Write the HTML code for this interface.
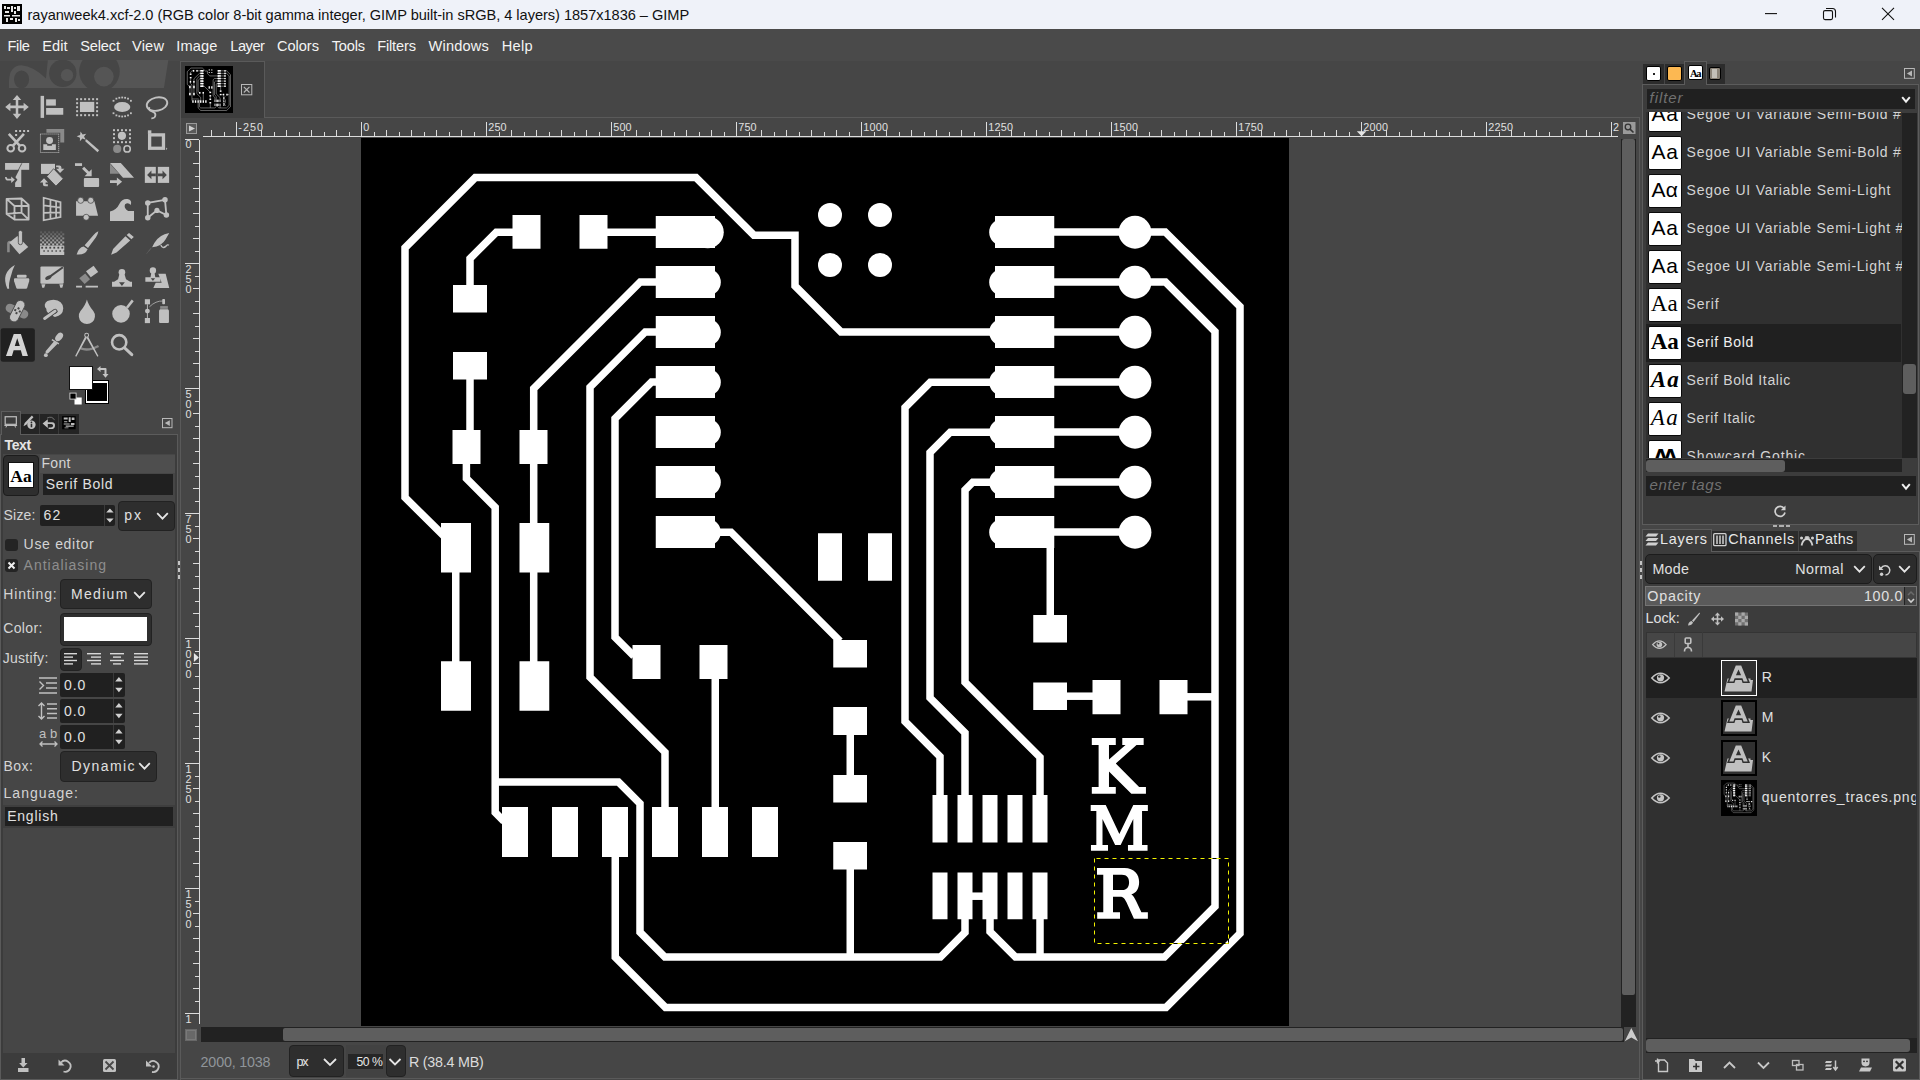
<!DOCTYPE html>
<html><head><meta charset="utf-8"><title>GIMP</title>
<style>
html,body{margin:0;padding:0;}
body{width:1920px;height:1080px;overflow:hidden;background:#464646;position:relative;font-family:"Liberation Sans",sans-serif;}
.t{position:absolute;white-space:pre;}
.r{position:absolute;box-sizing:border-box;}
svg{position:absolute;left:0;top:0;overflow:visible;}
</style></head><body>
<svg width="1920" height="1080" viewBox="0 0 1920 1080">
<g id="pcbg">
<rect x="361" y="138" width="928" height="888" fill="#000"/>
<g fill="none" stroke="#fff" stroke-width="7.5" stroke-linejoin="miter" stroke-linecap="butt">
<path d="M444,536 L405,497.5 L405,247.8 L475.3,177.5 L696,177.5 L753.9,235.25 L795,235.25 L795,286 L841,332 L996,332"/>
<path d="M513,232.25 L496.3,232.25 L470,258.5 L470,286"/>
<path d="M607,232.25 L657,232.25"/>
<path d="M657,281.9 L640.3,281.9 L533.7,388.5 L533.7,662"/>
<path d="M657,331.9 L645.3,331.9 L590,387.2 L590,677.2 L665,752.2 L665,808"/>
<path d="M657,382 L651.5,382 L615,418.5 L615,637.2 L634,656.2"/>
<path d="M714,532.2 L731,532.2 L840,641.2"/>
<path d="M470,379 L470,431"/>
<path d="M466.4,463 L466.4,478.5 L495.2,507.3 L495.2,812.5 L504,821.3"/>
<path d="M495.2,782.1 L618.5,782.1 L640,803.6 L640,932.2 L664.9,957.1 L940.4,957.1 L965,932.5 L965,918"/>
<path d="M455.75,572 L455.75,662"/>
<path d="M715.25,678 L715.25,808"/>
<path d="M615.25,856 L615.25,957.2 L665.5,1007.5 L1166,1007.5 L1240,933.5 L1240,306.5 L1165.2,231.9 L1135,231.9"/>
<path d="M1135,282 L1165.5,282 L1215,331.5 L1215,906.5 L1164.4,957.1 L1015.5,957.1 L990,931.6 L990,918"/>
<path d="M1040,918 L1040,957.1"/>
<path d="M850.25,868 L850.25,957.1"/>
<path d="M850.25,734 L850.25,776"/>
<path d="M1050.25,546 L1050.25,616"/>
<path d="M996,382.3 L930.3,382.3 L905,407.6 L905,721.5 L940,756.5 L940,796"/>
<path d="M996,432.2 L950.3,432.2 L930,452.5 L930,697.8 L965,732.8 L965,796"/>
<path d="M996,482.2 L972.8,482.2 L965,490 L965,682.2 L1040,757.2 L1040,796"/>
<path d="M1066,696.2 L1093,696.2"/>
<path d="M1187,696.8 L1215,696.8"/>
<path d="M970,896.2 L985,896.2"/>
<path d="M1053,232 L1135,232"/>
<path d="M1053,282 L1135,282"/>
<path d="M1053,332 L1135,332"/>
<path d="M1053,382 L1135,382"/>
<path d="M1053,432 L1135,432"/>
<path d="M1053,482 L1135,482"/>
<path d="M1053,532 L1135,532"/>
</g>
<g fill="#fff">
<rect x="512.50" y="215.00" width="28.00" height="33.75"/>
<rect x="579.50" y="215.00" width="28.00" height="33.75"/>
<rect x="453.00" y="285.00" width="34.00" height="27.50"/>
<rect x="453.00" y="352.00" width="34.00" height="27.50"/>
<rect x="452.50" y="430.00" width="28.00" height="34.00"/>
<rect x="519.50" y="430.00" width="28.00" height="34.00"/>
<rect x="441.00" y="523.00" width="30.00" height="49.50"/>
<rect x="519.50" y="523.00" width="29.75" height="49.50"/>
<rect x="441.00" y="661.25" width="30.00" height="49.50"/>
<rect x="519.50" y="661.25" width="29.75" height="49.50"/>
<rect x="632.50" y="645.00" width="28.00" height="34.00"/>
<rect x="699.50" y="645.00" width="28.00" height="34.00"/>
<rect x="818.00" y="533.25" width="24.00" height="47.50"/>
<rect x="868.00" y="533.25" width="24.00" height="47.50"/>
<rect x="833.25" y="640.00" width="33.75" height="27.50"/>
<rect x="833.25" y="707.00" width="33.75" height="28.00"/>
<rect x="833.25" y="775.00" width="33.75" height="27.50"/>
<rect x="833.25" y="842.00" width="33.75" height="27.50"/>
<rect x="1033.25" y="615.00" width="33.75" height="27.50"/>
<rect x="1033.25" y="682.50" width="33.75" height="27.50"/>
<rect x="1092.50" y="680.00" width="28.00" height="34.25"/>
<rect x="1159.50" y="680.00" width="28.00" height="34.25"/>
<rect x="502.00" y="807.00" width="26.00" height="50.00"/>
<rect x="552.00" y="807.00" width="26.00" height="50.00"/>
<rect x="602.00" y="807.00" width="26.00" height="50.00"/>
<rect x="652.00" y="807.00" width="26.00" height="50.00"/>
<rect x="702.00" y="807.00" width="26.00" height="50.00"/>
<rect x="752.00" y="807.00" width="26.00" height="50.00"/>
<rect x="932.50" y="795.00" width="15.00" height="47.50"/>
<rect x="932.50" y="872.50" width="15.00" height="46.75"/>
<rect x="957.50" y="795.00" width="15.00" height="47.50"/>
<rect x="957.50" y="872.50" width="15.00" height="46.75"/>
<rect x="982.50" y="795.00" width="15.00" height="47.50"/>
<rect x="982.50" y="872.50" width="15.00" height="46.75"/>
<rect x="1007.50" y="795.00" width="15.00" height="47.50"/>
<rect x="1007.50" y="872.50" width="15.00" height="46.75"/>
<rect x="1032.50" y="795.00" width="15.00" height="47.50"/>
<rect x="1032.50" y="872.50" width="15.00" height="46.75"/>
<rect x="655.75" y="216.00" width="59.25" height="32.00"/>
<circle cx="707.75" cy="232.25" r="16.00"/>
<rect x="995.00" y="216.00" width="59.25" height="32.00"/>
<circle cx="1002.5" cy="232.25" r="13.3"/>
<circle cx="1135" cy="232.25" r="16.4"/>
<rect x="655.75" y="266.00" width="59.25" height="32.00"/>
<circle cx="707.40" cy="282.25" r="13.40"/>
<rect x="995.00" y="266.00" width="59.25" height="32.00"/>
<circle cx="1002.5" cy="282.25" r="13.3"/>
<circle cx="1135" cy="282.25" r="16.4"/>
<rect x="655.75" y="316.00" width="59.25" height="32.00"/>
<circle cx="707.40" cy="332.25" r="13.40"/>
<rect x="995.00" y="316.00" width="59.25" height="32.00"/>
<circle cx="1002.5" cy="332.25" r="13.3"/>
<circle cx="1135" cy="332.25" r="16.4"/>
<rect x="655.75" y="366.00" width="59.25" height="32.00"/>
<circle cx="707.40" cy="382.25" r="13.40"/>
<rect x="995.00" y="366.00" width="59.25" height="32.00"/>
<circle cx="1002.5" cy="382.25" r="13.3"/>
<circle cx="1135" cy="382.25" r="16.4"/>
<rect x="655.75" y="416.00" width="59.25" height="32.00"/>
<circle cx="707.40" cy="432.25" r="13.40"/>
<rect x="995.00" y="416.00" width="59.25" height="32.00"/>
<circle cx="1002.5" cy="432.25" r="13.3"/>
<circle cx="1135" cy="432.25" r="16.4"/>
<rect x="655.75" y="466.00" width="59.25" height="32.00"/>
<circle cx="707.40" cy="482.25" r="13.40"/>
<rect x="995.00" y="466.00" width="59.25" height="32.00"/>
<circle cx="1002.5" cy="482.25" r="13.3"/>
<circle cx="1135" cy="482.25" r="16.4"/>
<rect x="655.75" y="516.00" width="59.25" height="32.00"/>
<circle cx="707.40" cy="532.25" r="13.40"/>
<rect x="995.00" y="516.00" width="59.25" height="32.00"/>
<circle cx="1002.5" cy="532.25" r="13.3"/>
<circle cx="1135" cy="532.25" r="16.4"/>
<circle cx="830" cy="215" r="12"/>
<circle cx="830" cy="265" r="12"/>
<circle cx="880" cy="215" r="12"/>
<circle cx="880" cy="265" r="12"/>
</g>
<polygon fill="#fff" points="1091.81,737.91 1115.79,737.91 1115.79,744.91 1108.98,744.91 1108.98,759.49 1125.51,744.91 1122.27,744.91 1122.27,737.91 1143.66,737.91 1143.66,744.91 1136.53,744.91 1115.79,763.38 1139.12,787.04 1145.93,787.04 1145.93,793.84 1131.34,793.84 1108.98,771.48 1108.98,787.04 1115.79,787.04 1115.79,793.84 1091.81,793.84 1091.81,787.04 1098.61,787.04 1098.61,744.91 1091.81,744.91"/>
<polygon fill="#fff" points="1090.70,805.05 1105.74,805.05 1119.35,833.89 1133.29,805.05 1147.87,805.05 1147.87,810.88 1142.04,810.88 1142.04,844.91 1147.55,844.91 1147.55,850.87 1127.97,850.87 1127.97,844.91 1133.29,844.91 1133.29,818.98 1120.65,844.91 1115.14,844.91 1102.50,818.98 1102.50,844.91 1108.01,844.91 1108.01,850.87 1090.96,850.87 1090.96,844.91 1096.34,844.91 1096.34,810.88 1090.70,810.88"/>
<path fill="#fff" fill-rule="evenodd" d="M1096.99,867.96 L1124.54,867.96 C1134.26,867.96 1139.12,874.44 1139.12,881.90 C1139.12,888.70 1136.20,892.92 1131.34,894.21 C1133.29,895.51 1134.58,897.78 1136.20,901.34 L1141.39,912.36 L1147.87,912.36 L1147.87,918.84 L1133.94,918.84 L1126.48,902.31 C1124.54,898.43 1123.24,896.81 1120.00,896.81 L1113.00,896.81 L1113.00,912.36 L1120.00,912.36 L1120.00,918.84 L1097.19,918.84 L1097.19,912.36 L1103.28,912.36 L1103.28,874.77 L1096.99,874.77 Z M1113.00,874.77 L1121.94,874.77 C1127.13,874.77 1129.07,878.01 1129.07,882.22 C1129.07,887.08 1126.81,890.00 1122.27,890.00 L1113.00,890.00 Z"/>
<rect x="1094.5" y="858.5" width="134" height="85" fill="none" stroke="#000" stroke-width="1"/>
<rect x="1094.5" y="858.5" width="134" height="85" fill="none" stroke="#f2f200" stroke-width="1" stroke-dasharray="4 4" stroke-dashoffset="-2"/>
</g>
</svg>
<div class="r" style="left:0.00px;top:0.00px;width:1920.00px;height:29.00px;background:#eff2f9;"></div>
<svg width="20" height="20" style="left:2px;top:4px" viewBox="0 0 20 20"><rect width="20" height="20" fill="#000"/><path d="M2,2h2v3h-2zM5,3h3v2h-3zM9,2h2v6h-2zM12,3h2v2h-2zM15,2h3v5h-3zM3,7h4v2h-4zM12,7h2v3h-2zM2,11h6v1.5h-6zM10,11h8v1.5h-8zM4,14h2v4h-2zM8,14h3v2h-3zM13,14h2v4h-2zM16,15h2v2h-2z" fill="#e8e8e8"/></svg>
<span class="t" style="left:27.50px;top:6.50px;font-size:14.60px;line-height:17px;color:#111;font-family:'Liberation Sans',sans-serif;letter-spacing:-0.033px;">rayanweek4.xcf-2.0 (RGB color 8-bit gamma integer, GIMP built-in sRGB, 4 layers) 1857x1836 – GIMP</span>
<svg width="1920" height="29" viewBox="0 0 1920 29"><g stroke="#111" stroke-width="1.1" fill="none"><path d="M1765,13.6 H1777"/><rect x="1823.5" y="10.600" width="9" height="9" rx="1.5"/><path d="M1826,8.500 H1832.500 Q1835.500,8.500 1835.500,11.500 V17.500"/><path d="M1882,7.800 L1894,19.800 M1894,7.800 L1882,19.800"/></g></svg>
<div class="r" style="left:0.00px;top:29.00px;width:1920.00px;height:31.50px;background:#4a4a4a;"></div>
<span class="t" style="left:7.50px;top:37.50px;font-size:14.60px;line-height:17px;color:#f4f4f4;font-family:'Liberation Sans',sans-serif;letter-spacing:-0.342px;">File</span>
<span class="t" style="left:42.20px;top:37.50px;font-size:14.60px;line-height:17px;color:#f4f4f4;font-family:'Liberation Sans',sans-serif;letter-spacing:0.047px;">Edit</span>
<span class="t" style="left:80.20px;top:37.50px;font-size:14.60px;line-height:17px;color:#f4f4f4;font-family:'Liberation Sans',sans-serif;letter-spacing:-0.156px;">Select</span>
<span class="t" style="left:132.00px;top:37.50px;font-size:14.60px;line-height:17px;color:#f4f4f4;font-family:'Liberation Sans',sans-serif;letter-spacing:0.206px;">View</span>
<span class="t" style="left:176.30px;top:37.50px;font-size:14.60px;line-height:17px;color:#f4f4f4;font-family:'Liberation Sans',sans-serif;letter-spacing:0.155px;">Image</span>
<span class="t" style="left:230.30px;top:37.50px;font-size:14.60px;line-height:17px;color:#f4f4f4;font-family:'Liberation Sans',sans-serif;letter-spacing:-0.456px;">Layer</span>
<span class="t" style="left:277.00px;top:37.50px;font-size:14.60px;line-height:17px;color:#f4f4f4;font-family:'Liberation Sans',sans-serif;letter-spacing:-0.038px;">Colors</span>
<span class="t" style="left:331.70px;top:37.50px;font-size:14.60px;line-height:17px;color:#f4f4f4;font-family:'Liberation Sans',sans-serif;letter-spacing:-0.196px;">Tools</span>
<span class="t" style="left:377.20px;top:37.50px;font-size:14.60px;line-height:17px;color:#f4f4f4;font-family:'Liberation Sans',sans-serif;letter-spacing:-0.158px;">Filters</span>
<span class="t" style="left:428.60px;top:37.50px;font-size:14.60px;line-height:17px;color:#f4f4f4;font-family:'Liberation Sans',sans-serif;letter-spacing:0.162px;">Windows</span>
<span class="t" style="left:501.70px;top:37.50px;font-size:14.60px;line-height:17px;color:#f4f4f4;font-family:'Liberation Sans',sans-serif;letter-spacing:0.291px;">Help</span>
<svg width="180" height="169.92" style="left:0;top:60px" viewBox="0 0 1144 1080"><defs><clipPath id="wmc"><rect x="0" y="0" width="1144" height="178"/></clipPath></defs><g clip-path="url(#wmc)"><path d="M57,178 L57,135 Q60,36 137,34 Q212,40 292,118 L304,0 L1070,0 L1042,178 Z" fill="#555555"/><ellipse cx="137" cy="123" rx="48" ry="57" fill="#464646"/><circle cx="399" cy="84.5" r="87" fill="#464646"/><circle cx="426" cy="96.6" r="39" fill="#555555"/><circle cx="632" cy="73" r="129" fill="#464646"/><circle cx="660" cy="105.5" r="62.5" fill="#555555"/></g><g fill="#c0c0c0" stroke="none"><path d="M108,222 L135,255 L116,255 L116,290 L150,290 L150,271 L183,298 L150,325 L150,306 L116,306 L116,342 L135,342 L108,375 L81,342 L100,342 L100,306 L66,306 L66,325 L33,298 L66,271 L66,290 L100,290 L100,255 L81,255 Z"/><rect x="258" y="228" width="22" height="140"/><rect x="293" y="250" width="62" height="40"/><rect x="293" y="305" width="109" height="43"/><rect x="508" y="266" width="91" height="64.500"/><rect x="483.7" y="242.8" width="12.7" height="12.7"/><rect x="483.7" y="268.2" width="12.7" height="12.7"/><rect x="483.7" y="293.6" width="12.7" height="12.7"/><rect x="483.7" y="319.0" width="12.7" height="12.7"/><rect x="483.7" y="344.4" width="12.7" height="12.7"/><rect x="509.1" y="242.8" width="12.7" height="12.7"/><rect x="509.1" y="344.4" width="12.7" height="12.7"/><rect x="534.5" y="242.8" width="12.7" height="12.7"/><rect x="534.5" y="344.4" width="12.7" height="12.7"/><rect x="559.9" y="242.8" width="12.7" height="12.7"/><rect x="559.9" y="344.4" width="12.7" height="12.7"/><rect x="585.3" y="242.8" width="12.7" height="12.7"/><rect x="585.3" y="344.4" width="12.7" height="12.7"/><rect x="610.7" y="242.8" width="12.7" height="12.7"/><rect x="610.7" y="268.2" width="12.7" height="12.7"/><rect x="610.7" y="293.6" width="12.7" height="12.7"/><rect x="610.7" y="319.0" width="12.7" height="12.7"/><rect x="610.7" y="344.4" width="12.7" height="12.7"/><ellipse cx="776.7" cy="298.5" rx="51.5" ry="32"/><rect x="715.7" y="253.5" width="11.5" height="11.5"/><rect x="715.7" y="332.6" width="11.5" height="11.5"/><rect x="734.1" y="239.9" width="11.5" height="11.5"/><rect x="734.1" y="346.2" width="11.5" height="11.5"/><rect x="752.6" y="234.3" width="11.5" height="11.5"/><rect x="752.6" y="351.8" width="11.5" height="11.5"/><rect x="771.0" y="232.6" width="11.5" height="11.5"/><rect x="771.0" y="353.5" width="11.5" height="11.5"/><rect x="789.4" y="234.3" width="11.5" height="11.5"/><rect x="789.4" y="351.8" width="11.5" height="11.5"/><rect x="807.9" y="239.9" width="11.5" height="11.5"/><rect x="807.9" y="346.2" width="11.5" height="11.5"/><rect x="826.3" y="253.5" width="11.5" height="11.5"/><rect x="826.3" y="332.6" width="11.5" height="11.5"/><ellipse cx="998" cy="280" rx="66" ry="42" transform="rotate(-12 998 280)" fill="none" stroke="#c0c0c0" stroke-width="12"/><path d="M950,300 C935,335 990,318 988,350 C987,364 978,372 962,371" fill="none" stroke="#c0c0c0" stroke-width="11"/><g fill="none" stroke="#c0c0c0"><circle cx="68" cy="561" r="21" stroke-width="13"/><circle cx="140" cy="561" r="21" stroke-width="13"/><path d="M56,470 L128,548 M152,470 L80,548" stroke-width="17"/></g><rect x="96.0" y="445" width="12.7" height="12.7"/><rect x="121.4" y="445" width="12.7" height="12.7"/><rect x="146.8" y="445" width="12.7" height="12.7"/><rect x="172.2" y="445" width="12.7" height="12.7"/><rect x="96" y="470.4" width="12.7" height="12.7"/><path d="M295,438 H408 V525 H383 V462 H295 Z" fill="#8a8a8a"/><rect x="257" y="470" width="116" height="118" fill="none" stroke="#c0c0c0" stroke-width="6.4" stroke-dasharray="6.36 6.36"/><circle cx="315" cy="512" r="22"/><path d="M275,535 H300 V545 H330 V535 H355 V572 H275 Z"/><polygon points="511.8,454.0 525.2,473.0 547.9,468.4 534.0,486.9 545.4,507.1 523.5,499.6 507.8,516.7 508.2,493.5 487.1,483.9 509.2,477.1"/><path d="M545,510 L625,580" stroke="#c0c0c0" stroke-width="15" fill="none"/><rect x="718.2" y="439.8" width="12.7" height="12.7"/><rect x="718.2" y="465.2" width="12.7" height="12.7"/><rect x="718.2" y="490.6" width="12.7" height="12.7"/><rect x="718.2" y="516.0" width="12.7" height="12.7"/><rect x="743.6" y="439.8" width="12.7" height="12.7"/><rect x="743.6" y="516.0" width="12.7" height="12.7"/><rect x="769.0" y="439.8" width="12.7" height="12.7"/><rect x="769.0" y="516.0" width="12.7" height="12.7"/><rect x="794.4" y="439.8" width="12.7" height="12.7"/><rect x="794.4" y="516.0" width="12.7" height="12.7"/><rect x="819.8" y="439.8" width="12.7" height="12.7"/><rect x="819.8" y="465.2" width="12.7" height="12.7"/><rect x="819.8" y="490.6" width="12.7" height="12.7"/><rect x="819.8" y="516.0" width="12.7" height="12.7"/><circle cx="775" cy="482" r="26"/><circle cx="745" cy="565" r="26" fill="#8a8a8a"/><circle cx="808" cy="565" r="20" fill="none" stroke="#c0c0c0" stroke-width="10"/><rect x="951" y="476" width="88" height="85" fill="none" stroke="#c0c0c0" stroke-width="21"/><rect x="940" y="447" width="22" height="22"/><path d="M1056,556 l8,8 l-8,8z"/><g transform="translate(0,635.6) scale(0.5826)"><rect x="55" y="33" width="263" height="74"/><path d="M238,36 L160,192" stroke="#464646" stroke-width="9"/><path d="M232,62 V295 H165 V248 L190,215 L168,188 Z"/><path d="M55,185 H72 Q72,205 92,205 H122 V180 L162,215 L122,250 V225 H90 Q55,225 55,185 Z"/><rect x="447" y="42" width="153" height="110"/><path d="M585,95 L690,205 L610,285 L510,180 Z" stroke="#464646" stroke-width="9"/><path d="M612,60 H648 Q670,60 670,82 V95 H702 L655,142 L612,95 H640 V86 Q640,80 633,80 H612 Z"/><path d="M522,287 H490 Q468,287 468,265 V245 H435 L480,198 L524,245 H497 V258 Q497,265 504,265 H522 Z"/><rect x="818" y="35" width="77" height="30"/><path d="M895,96 L918,73 L972,127 L1000,100 V177 H923 L950,150 Z"/><rect x="915" y="197" width="166" height="98" rx="10"/><path d="M1200,40 V150 H1300 Z" fill="#8a8a8a"/><path d="M1200,33 H1318 L1462,195 H1342 Z"/><path d="M1200,222 H1275 V190 L1332,237 L1275,284 V252 H1200 Z"/><rect x="1580" y="75" width="120" height="175"/><rect x="1722" y="75" width="123" height="175"/><path d="M1605,163 L1652,116 V148 H1700 V178 H1652 V210 Z M1820,163 L1773,116 V148 H1722 V178 H1773 V210 Z" fill="#464646"/><g fill="none" stroke="#c0c0c0" stroke-width="20" stroke-linejoin="round"><path d="M72,424 L235,420 L312,490 V650 H158 L72,588 Z M72,424 L158,502 H312 M158,502 V650 M235,420 V575 L72,588 M235,575 L312,650"/></g><g fill="none" stroke="#c0c0c0" stroke-width="19"><path d="M476,412 L660,460 V622 L476,658 Z M550,432 V645 M612,448 V632 M476,495 L660,520 M476,578 L660,572"/></g><path d="M830,450 H1030 L1070,608 H830 Z"/><circle cx="880" cy="440" r="33" stroke="#464646" stroke-width="8"/><circle cx="990" cy="440" r="33" stroke="#464646" stroke-width="8"/><circle cx="940" cy="625" r="33" stroke="#464646" stroke-width="8"/><path d="M1200,562 Q1272,545 1302,480 Q1332,418 1392,425 Q1445,436 1426,492 Q1400,455 1365,482 Q1345,522 1398,556 H1462 V665 H1200 Z"/><path d="M1612,468 L1800,435 L1815,600 L1712,550 L1612,630 Z" fill="none" stroke="#c0c0c0" stroke-width="20"/><circle cx="1612" cy="468" r="30"/><circle cx="1800" cy="435" r="30"/><circle cx="1815" cy="600" r="30"/><circle cx="1612" cy="630" r="30"/><circle cx="1712" cy="550" r="28"/></g></g></svg>
<svg width="180" height="215.05" style="left:0;top:225px" viewBox="0 0 904 1080"><defs><linearGradient id="gr" x1="0" y1="0" x2="0" y2="1"><stop offset="0" stop-color="#c0c0c0" stop-opacity="0.1"/><stop offset="0.6" stop-color="#c0c0c0" stop-opacity="0.85"/></linearGradient></defs><rect x="3" y="518" width="172" height="169" rx="12" fill="#212121"/><g fill="#c0c0c0"><g transform="translate(0,15.07) scale(0.4604)"><path d="M78,265 V170 Q80,140 108,140 L135,152 L106,178 V265 Z" fill="#8a8a8a"/><path d="M190,88 L308,208 L212,285 L102,158 Z"/><rect x="200" y="26" width="45" height="156" rx="22" stroke="#464646" stroke-width="9"/><rect x="437" y="36" width="22" height="22" opacity="0.18"/><rect x="481" y="36" width="22" height="22" opacity="0.18"/><rect x="525" y="36" width="22" height="22" opacity="0.18"/><rect x="569" y="36" width="22" height="22" opacity="0.18"/><rect x="613" y="36" width="22" height="22" opacity="0.18"/><rect x="657" y="36" width="22" height="22" opacity="0.18"/><rect x="459" y="58" width="22" height="22" opacity="0.30"/><rect x="503" y="58" width="22" height="22" opacity="0.30"/><rect x="547" y="58" width="22" height="22" opacity="0.30"/><rect x="591" y="58" width="22" height="22" opacity="0.30"/><rect x="635" y="58" width="22" height="22" opacity="0.30"/><rect x="679" y="58" width="22" height="22" opacity="0.30"/><rect x="437" y="80" width="22" height="22" opacity="0.42"/><rect x="481" y="80" width="22" height="22" opacity="0.42"/><rect x="525" y="80" width="22" height="22" opacity="0.42"/><rect x="569" y="80" width="22" height="22" opacity="0.42"/><rect x="613" y="80" width="22" height="22" opacity="0.42"/><rect x="657" y="80" width="22" height="22" opacity="0.42"/><rect x="459" y="102" width="22" height="22" opacity="0.54"/><rect x="503" y="102" width="22" height="22" opacity="0.54"/><rect x="547" y="102" width="22" height="22" opacity="0.54"/><rect x="591" y="102" width="22" height="22" opacity="0.54"/><rect x="635" y="102" width="22" height="22" opacity="0.54"/><rect x="679" y="102" width="22" height="22" opacity="0.54"/><rect x="437" y="124" width="22" height="22" opacity="0.66"/><rect x="481" y="124" width="22" height="22" opacity="0.66"/><rect x="525" y="124" width="22" height="22" opacity="0.66"/><rect x="569" y="124" width="22" height="22" opacity="0.66"/><rect x="613" y="124" width="22" height="22" opacity="0.66"/><rect x="657" y="124" width="22" height="22" opacity="0.66"/><rect x="459" y="146" width="22" height="22" opacity="0.78"/><rect x="503" y="146" width="22" height="22" opacity="0.78"/><rect x="547" y="146" width="22" height="22" opacity="0.78"/><rect x="591" y="146" width="22" height="22" opacity="0.78"/><rect x="635" y="146" width="22" height="22" opacity="0.78"/><rect x="679" y="146" width="22" height="22" opacity="0.78"/><rect x="437" y="168" width="22" height="22" opacity="0.90"/><rect x="481" y="168" width="22" height="22" opacity="0.90"/><rect x="525" y="168" width="22" height="22" opacity="0.90"/><rect x="569" y="168" width="22" height="22" opacity="0.90"/><rect x="613" y="168" width="22" height="22" opacity="0.90"/><rect x="657" y="168" width="22" height="22" opacity="0.90"/><rect x="437" y="190" width="264" height="105" rx="6"/><rect x="450" y="205" width="20" height="20" fill="#464646"/><rect x="472" y="242" width="18" height="18" fill="#464646" opacity="0.8"/><rect x="494" y="205" width="20" height="20" fill="#464646"/><rect x="516" y="242" width="18" height="18" fill="#464646" opacity="0.8"/><rect x="538" y="205" width="20" height="20" fill="#464646"/><rect x="560" y="242" width="18" height="18" fill="#464646" opacity="0.8"/><rect x="582" y="205" width="20" height="20" fill="#464646"/><rect x="604" y="242" width="18" height="18" fill="#464646" opacity="0.8"/><rect x="626" y="205" width="20" height="20" fill="#464646"/><rect x="648" y="242" width="18" height="18" fill="#464646" opacity="0.8"/><rect x="670" y="205" width="20" height="20" fill="#464646"/><rect x="692" y="242" width="18" height="18" fill="#464646" opacity="0.8"/></g><path d="M494,32 Q480,38 470,50 L425,102 L442,116 L482,62 Q492,48 494,32 Z"/><path d="M420,108 Q395,112 385,148 Q428,152 440,122 Z"/><path d="M648,40 L672,60 L660,72 L636,50 Z M630,56 L654,78 L585,138 L558,150 L568,120 Z"/><path d="M850,40 Q800,48 775,90 L764,112 Q812,108 832,72 Z"/><path d="M808,100 q8,22 26,6 q8,-10 14,-4" fill="none" stroke="#c0c0c0" stroke-width="7"/><path d="M760,115 L738,142" stroke="#c0c0c0" stroke-width="4" stroke-dasharray="4 4" opacity="0.5"/><g transform="translate(0,15.07) scale(0.4604)"><path d="M162,403 Q5,490 80,662 L100,662 Q92,600 120,520 Q132,462 162,403 Z"/><rect x="185" y="510" width="105" height="32" rx="10"/><path d="M158,548 H312 Q325,552 318,580 L296,655 Q292,662 284,662 H190 Q182,662 178,655 L154,580 Q148,552 158,548 Z"/></g><rect x="203" y="208" width="117" height="87" rx="6"/><path d="M208,298 H228 L222,315 H212 Z M298,298 H318 L313,315 H303 Z"/><path d="M316,212 L252,258" stroke="#464646" stroke-width="10"/><ellipse cx="243" cy="264" rx="17" ry="9" transform="rotate(-28 243 264)" fill="#464646"/><path d="M432,232 L470,205 L493,236 L456,263 Z"/><path d="M398,268 L428,244 L452,272 L425,296 Z" fill="#8a8a8a"/><rect x="382" y="305" width="30" height="9"/><rect x="430" y="305" width="62" height="9"/><g transform="translate(0,15.07) scale(0.4604)"><circle cx="1330" cy="482" r="36"/><path d="M1302,505 H1358 L1375,560 L1420,585 H1440 V640 H1222 V585 H1245 L1288,560 Z"/><path d="M1298,592 H1362 L1330,632 Z" fill="#464646"/></g><circle cx="768" cy="228" r="16"/><path d="M760,240 H776 L780,262 H806 V285 H730 V262 H756 Z"/><path d="M757,268 H779 L768,281 Z" fill="#464646"/><path d="M795,245 H832 L850,316 H770 L782,290 H812 Z"/><g transform="translate(0,356.56) scale(0.4604)"><rect x="55" y="118" width="260" height="94" rx="45" transform="rotate(23.600 185 165)" fill="#8a8a8a"/><rect x="138" y="40" width="100" height="250" rx="48" transform="rotate(27 188 165)" stroke="#464646" stroke-width="9"/><rect x="155" y="142" width="22" height="22" transform="rotate(27 166 153)" fill="#464646"/><rect x="191" y="124" width="22" height="22" transform="rotate(27 202 135)" fill="#464646"/><rect x="169" y="176" width="22" height="22" transform="rotate(27 180 187)" fill="#464646"/><rect x="205" y="158" width="22" height="22" transform="rotate(27 216 169)" fill="#464646"/><path d="M488,95 Q500,45 585,42 Q685,50 690,135 Q688,215 600,228 Q568,222 572,195 Q625,200 630,165 Q610,140 585,160 L530,195 Q500,170 505,140 Q485,120 488,95 Z"/><path d="M487,245 L600,165" stroke="#464646" stroke-width="50" stroke-linecap="round"/><path d="M487,245 L600,165" stroke="#c0c0c0" stroke-width="33" stroke-linecap="round"/><path d="M948,38 Q935,95 878,165 A88,88 0 1 0 1018,165 Q962,95 948,38 Z"/><circle cx="1320" cy="195" r="96"/><path d="M1385,128 L1448,48" stroke="#c0c0c0" stroke-width="28"/><path d="M1608,90 V240" stroke="#c0c0c0" stroke-width="10"/><path d="M1630,118 Q1700,50 1778,55" fill="none" stroke="#c0c0c0" stroke-width="8"/><rect x="1580" y="35" width="56" height="56"/><rect x="1580" y="240" width="56" height="56"/><circle cx="1608" cy="165" r="27"/><rect x="1770" y="33" width="30" height="58" rx="8"/><rect x="1747" y="110" width="84" height="30" fill="#8a8a8a"/><path d="M1747,145 H1831 Q1843,150 1843,165 V283 Q1843,295 1831,295 H1747 Q1735,295 1735,283 V165 Q1735,150 1747,145 Z"/><path d="M150,415 H228 L305,655 H245 L227,592 H149 L130,655 H65 Z M188,462 L161,545 H216 Z" fill="#d4d4d4" fill-rule="evenodd"/><ellipse cx="645" cy="447" rx="34" ry="52" transform="rotate(40 645 447)"/><path d="M566,476 L642,522" stroke="#c0c0c0" stroke-width="15"/><path d="M592,490 L628,520 L528,622 Q510,635 500,622 Q490,610 502,596 Z"/><circle cx="500" cy="645" r="21"/><path d="M880,572 Q965,605 1075,545" fill="none" stroke="#8a8a8a" stroke-width="26"/><circle cx="945" cy="428" r="21" fill="none" stroke="#c0c0c0" stroke-width="11"/><path d="M928,445 L948,452 L832,662 L820,655 Z M962,445 L942,452 L1062,662 L1074,655 Z"/><circle cx="1300" cy="505" r="78" fill="none" stroke="#c0c0c0" stroke-width="28"/><path d="M1362,568 L1438,640" stroke="#c0c0c0" stroke-width="32" stroke-linecap="round"/></g></g></svg>
<div class="r" style="left:84.80px;top:380.20px;width:24.20px;height:23.70px;background:#fff;border:1.3px solid #000;"></div>
<div class="r" style="left:87.20px;top:382.60px;width:19.40px;height:18.90px;background:#000;"></div>
<div class="r" style="left:69.00px;top:366.00px;width:24.00px;height:24.00px;background:#fff;border:1px solid #111;"></div>
<svg width="14" height="14" style="left:68.5px;top:391.5px" viewBox="0 0 14 14"><rect x="5.500" y="5.500" width="7.200" height="7" fill="#fff"/><rect x="0.900" y="1.100" width="6.200" height="6" fill="#000" stroke="#d4d4d4" stroke-width="0.9"/></svg>
<svg width="14" height="14" style="left:96px;top:365px" viewBox="0 0 14 14"><path d="M1,4 L4.5,1 V3 H9.5 Q10.5,3 10.5,4 V9 H12.5 L9.5,12.8 L6.5,9 H8.5 V5 H4.5 V7 Z" fill="#c4c4c4"/></svg>
<div class="r" style="left:0.00px;top:434.40px;width:178.20px;height:645.60px;background:#3c3c3c;border:1px solid #5a5a5a;border-top:none;"></div>
<div class="r" style="left:3.00px;top:454.30px;width:172.30px;height:598.40px;background:#464646;"></div>
<div class="r" style="left:20.80px;top:414.00px;width:58.50px;height:20.50px;background:#242424;"></div>
<div class="r" style="left:0.50px;top:410.70px;width:20.60px;height:24.50px;background:#3c3c3c;border:1px solid #5c5c5c;border-bottom:none;"></div>
<div class="r" style="left:38.80px;top:414.00px;width:1.00px;height:20.00px;background:#3a3a3a;"></div>
<div class="r" style="left:57.60px;top:414.00px;width:1.00px;height:20.00px;background:#3a3a3a;"></div>
<div class="r" style="left:21.00px;top:434.00px;width:157.00px;height:1.00px;background:#5c5c5c;"></div>
<svg width="180" height="215.05" style="left:0;top:224.2px" viewBox="0 0 904 1080"><g fill="#c0c0c0"><rect x="26" y="968" width="56" height="38" fill="none" stroke="#c0c0c0" stroke-width="6"/><path d="M22,1012 H86 M34,1010 L30,1022 M74,1010 L78,1022" stroke="#c0c0c0" stroke-width="5"/><path d="M118,1016 L124,1000 L160,962 L168,970 L132,1008 Z"/><circle cx="158" cy="1008" r="21"/><rect x="154" y="1003" width="8" height="18" fill="#2a2a2a"/><circle cx="158" cy="996" r="4.5" fill="#2a2a2a"/><path d="M214,1002 L240,980 V996 H262 Q278,998 276,1014 Q274,1030 256,1030 H244 V1022 H256 Q266,1021 267,1012 Q266,1004 258,1004 H240 V1024 Z"/><path d="M236,975 Q262,962 274,985" fill="none" stroke="#c0c0c0" stroke-width="4" opacity="0.6"/><rect x="312" y="965" width="68" height="66" fill="#000"/><path d="M320,972h20v10h-20zM345,970h10v25h-10zM360,972h14v12h-14zM322,990h16v6h-16zM320,1002h30v5h-30zM356,1000h18v10h-18zM330,1012h40v6h-40zM324,1022h20v4h-20z" fill="#bbb"/></g></svg>
<svg width="12" height="12" style="left:161.700px;top:417.800px" viewBox="0 0 12 12"><rect x="0.500" y="0.500" width="9.500" height="9.200" fill="none" stroke="#b8b8b8"/><path d="M7.800,2.300 V7.900 L2.800,5.100 Z" fill="#b8b8b8"/></svg>
<span class="t" style="left:4.60px;top:437.00px;font-size:14.00px;line-height:16px;color:#e4e4e4;font-family:'Liberation Sans',sans-serif;letter-spacing:-0.416px;font-weight:bold;">Text</span>
<div class="r" style="left:40.00px;top:455.00px;width:135.00px;height:18.00px;background:#4e4e4e;"></div>
<div class="r" style="left:3.00px;top:455.00px;width:36.00px;height:40.50px;background:#2e2e2e;border:1px solid #1c1c1c;border-radius:4px;"></div>
<div class="r" style="left:8.30px;top:462.00px;width:25.30px;height:25.50px;background:#fff;border:1px solid #111;"></div>
<span class="t" style="left:10.20px;top:466.00px;font-size:17.50px;line-height:20px;color:#000;font-family:'Liberation Serif',serif;letter-spacing:0.112px;font-weight:bold;">Aa</span>
<span class="t" style="left:41.40px;top:455.00px;font-size:14.00px;line-height:16px;color:#d4d4d4;font-family:'Liberation Sans',sans-serif;letter-spacing:0.329px;">Font</span>
<div class="r" style="left:42.80px;top:474.00px;width:130.50px;height:20.50px;background:#202020;"></div>
<span class="t" style="left:45.80px;top:476.00px;font-size:14.00px;line-height:16px;color:#e0e0e0;font-family:'Liberation Sans',sans-serif;letter-spacing:0.667px;">Serif Bold</span>
<span class="t" style="left:3.50px;top:507.00px;font-size:14.00px;line-height:16px;color:#d4d4d4;font-family:'Liberation Sans',sans-serif;letter-spacing:0.219px;">Size:</span>
<div class="r" style="left:39.50px;top:504.50px;width:75.00px;height:21.50px;background:#202020;border-radius:2px;"></div>
<span class="t" style="left:43.60px;top:507.00px;font-size:14.00px;line-height:16px;color:#e0e0e0;font-family:'Liberation Sans',sans-serif;letter-spacing:1.227px;">62</span>
<div class="r" style="left:103.50px;top:504.50px;width:1.00px;height:21.50px;background:#3a3a3a;"></div>
<svg width="12" height="21.0" style="left:103.5px;top:504.5px" viewBox="0 0 12 21.0"><path d="M2.2,7.6 L5.900,3.6 L9.600,7.6 Z M2.200,13.4 L5.900,17.4 L9.600,13.4 Z" fill="#d0d0d0"/></svg>
<div class="r" style="left:117.50px;top:500.50px;width:57.50px;height:30.50px;background:#2e2e2e;border:1px solid #222;border-radius:4px;"></div>
<span class="t" style="left:124.30px;top:507.00px;font-size:14.00px;line-height:16px;color:#e0e0e0;font-family:'Liberation Sans',sans-serif;letter-spacing:1.914px;">px</span>
<svg width="13" height="8" style="left:156.0px;top:512.0px" viewBox="0 0 13 8"><path d="M1.2,1.2 L6.5,6.6 L11.8,1.2" fill="none" stroke="#e6e6e6" stroke-width="1.8"/></svg>
<div class="r" style="left:5.30px;top:538.50px;width:12.50px;height:12.00px;background:#242424;border-radius:3px;"></div>
<span class="t" style="left:23.60px;top:536.00px;font-size:14.00px;line-height:16px;color:#d4d4d4;font-family:'Liberation Sans',sans-serif;letter-spacing:0.688px;">Use editor</span>
<div class="r" style="left:5.00px;top:559.30px;width:12.50px;height:12.50px;background:#242424;border-radius:3px;"></div>
<svg width="9" height="9" style="left:6.8px;top:561.1px" viewBox="0 0 9 9"><path d="M1.5,1.5 L7.5,7.5 M7.5,1.5 L1.5,7.5" stroke="#f0f0f0" stroke-width="2"/></svg>
<span class="t" style="left:23.60px;top:557.00px;font-size:14.00px;line-height:16px;color:#8e8e8e;font-family:'Liberation Sans',sans-serif;letter-spacing:0.982px;">Antialiasing</span>
<span class="t" style="left:3.30px;top:586.00px;font-size:14.00px;line-height:16px;color:#d4d4d4;font-family:'Liberation Sans',sans-serif;letter-spacing:0.847px;">Hinting:</span>
<div class="r" style="left:60.40px;top:579.30px;width:91.30px;height:30.00px;background:#2e2e2e;border:1px solid #222;border-radius:4px;"></div>
<span class="t" style="left:71.00px;top:586.00px;font-size:14.00px;line-height:16px;color:#e0e0e0;font-family:'Liberation Sans',sans-serif;letter-spacing:1.301px;">Medium</span>
<svg width="13" height="8" style="left:133.0px;top:591.0px" viewBox="0 0 13 8"><path d="M1.2,1.2 L6.5,6.6 L11.8,1.2" fill="none" stroke="#e6e6e6" stroke-width="1.8"/></svg>
<span class="t" style="left:3.30px;top:620.00px;font-size:14.00px;line-height:16px;color:#d4d4d4;font-family:'Liberation Sans',sans-serif;letter-spacing:0.331px;">Color:</span>
<div class="r" style="left:60.40px;top:612.70px;width:91.30px;height:33.00px;background:#2e2e2e;border:1px solid #222;border-radius:4px;"></div>
<div class="r" style="left:64.30px;top:616.70px;width:83.00px;height:24.50px;background:#fff;"></div>
<span class="t" style="left:2.70px;top:650.00px;font-size:14.00px;line-height:16px;color:#d4d4d4;font-family:'Liberation Sans',sans-serif;letter-spacing:0.291px;">Justify:</span>
<div class="r" style="left:60.40px;top:648.30px;width:22.00px;height:22.50px;background:#2a2a2a;border:1px solid #222;border-radius:4px;"></div>
<svg width="100" height="14" style="left:62px;top:652px" viewBox="0 0 100 14"><g stroke="#d8d8d8" stroke-width="1.4"><path d="M2,1.7 H15"/><path d="M2,5.1 H11"/><path d="M2,8.5 H15"/><path d="M2,11.9 H11"/><path d="M25,1.7 H39"/><path d="M29,5.1 H39"/><path d="M25,8.5 H39"/><path d="M29,11.9 H39"/><path d="M48,1.7 H62"/><path d="M51,5.1 H59"/><path d="M48,8.5 H62"/><path d="M51,11.9 H59"/><path d="M72,1.7 H86"/><path d="M72,5.1 H86"/><path d="M72,8.5 H86"/><path d="M72,11.9 H86"/></g></svg>
<div class="r" style="left:60.40px;top:673.40px;width:64.30px;height:23.20px;background:#202020;border-radius:2px;"></div>
<span class="t" style="left:64.00px;top:677.00px;font-size:14.00px;line-height:16px;color:#e0e0e0;font-family:'Liberation Sans',sans-serif;letter-spacing:0.919px;">0.0</span>
<div class="r" style="left:113.20px;top:673.40px;width:1.00px;height:23.20px;background:#3a3a3a;"></div>
<svg width="12" height="23.2" style="left:113.2px;top:673.4px" viewBox="0 0 12 23.2"><path d="M2.2,8.4 L5.900,3.9 L9.600,8.4 Z M2.200,14.8 L5.900,19.3 L9.600,14.8 Z" fill="#d0d0d0"/></svg>
<div class="r" style="left:60.40px;top:699.40px;width:64.30px;height:23.20px;background:#202020;border-radius:2px;"></div>
<span class="t" style="left:64.00px;top:703.00px;font-size:14.00px;line-height:16px;color:#e0e0e0;font-family:'Liberation Sans',sans-serif;letter-spacing:0.919px;">0.0</span>
<div class="r" style="left:113.20px;top:699.40px;width:1.00px;height:23.20px;background:#3a3a3a;"></div>
<svg width="12" height="23.2" style="left:113.2px;top:699.4px" viewBox="0 0 12 23.2"><path d="M2.2,8.4 L5.900,3.9 L9.600,8.4 Z M2.200,14.8 L5.900,19.3 L9.600,14.8 Z" fill="#d0d0d0"/></svg>
<div class="r" style="left:60.40px;top:725.40px;width:64.30px;height:23.20px;background:#202020;border-radius:2px;"></div>
<span class="t" style="left:64.00px;top:729.00px;font-size:14.00px;line-height:16px;color:#e0e0e0;font-family:'Liberation Sans',sans-serif;letter-spacing:0.919px;">0.0</span>
<div class="r" style="left:113.20px;top:725.40px;width:1.00px;height:23.20px;background:#3a3a3a;"></div>
<svg width="12" height="23.2" style="left:113.2px;top:725.4px" viewBox="0 0 12 23.2"><path d="M2.2,8.4 L5.900,3.9 L9.600,8.4 Z M2.200,14.8 L5.900,19.3 L9.600,14.8 Z" fill="#d0d0d0"/></svg>
<svg width="180" height="100" style="left:0;top:670px" viewBox="0 670 180 100"><g fill="none" stroke="#c0c0c0" stroke-width="1.5"><path d="M39,678 H57 M46,683 H57 M46,688 H57 M39,693 H57"/><path d="M39.5,681.5 L43.5,685.5 L39.5,689.5" stroke-width="1.4"/><path d="M47,704 H57 M47,708.7 H57 M47,713.4 H57 M47,718 H57"/><path d="M41.5,703 V719 M38.5,706 L41.5,703 L44.5,706 M38.5,716 L41.5,719 L44.5,716" stroke-width="1.4"/><path d="M40,744 H57 M42.5,741.5 L40,744 L42.5,746.5 M54.500,741.5 L57,744 L54.5,746.5" stroke-width="1.3"/></g></svg>
<span class="t" style="left:38.90px;top:726.00px;font-size:13.00px;line-height:15px;color:#c0c0c0;font-family:'Liberation Sans',sans-serif;letter-spacing:3.840px;">ab</span>
<span class="t" style="left:3.50px;top:758.00px;font-size:14.00px;line-height:16px;color:#d4d4d4;font-family:'Liberation Sans',sans-serif;letter-spacing:0.495px;">Box:</span>
<div class="r" style="left:60.40px;top:751.10px;width:96.60px;height:30.60px;background:#2e2e2e;border:1px solid #222;border-radius:4px;"></div>
<span class="t" style="left:71.50px;top:758.00px;font-size:14.00px;line-height:16px;color:#e0e0e0;font-family:'Liberation Sans',sans-serif;letter-spacing:1.424px;">Dynamic</span>
<svg width="13" height="8" style="left:137.5px;top:762.3px" viewBox="0 0 13 8"><path d="M1.2,1.2 L6.5,6.6 L11.8,1.2" fill="none" stroke="#e6e6e6" stroke-width="1.8"/></svg>
<span class="t" style="left:3.50px;top:785.00px;font-size:14.00px;line-height:16px;color:#d4d4d4;font-family:'Liberation Sans',sans-serif;letter-spacing:1.040px;">Language:</span>
<div class="r" style="left:3.00px;top:805.30px;width:171.70px;height:23.20px;background:#202020;border:2px solid #3e3e3e;"></div>
<span class="t" style="left:7.20px;top:808.00px;font-size:14.00px;line-height:16px;color:#e0e0e0;font-family:'Liberation Sans',sans-serif;letter-spacing:0.764px;">English</span>
<svg width="180" height="24" style="left:0;top:1054px" viewBox="0 1054 180 24"><g fill="#c0c0c0" stroke="none"><path d="M21.5,1058 h3.5 v5 h2.5 l-4.2,4.5 l-4.2,-4.5 h2.4 z M18,1068 h10.5 v4 h-10.5 z"/><path d="M61,1062.5 A5.5,5.5 0 1 1 63.5,1071.5" fill="none" stroke="#c0c0c0" stroke-width="1.8"/><path d="M58.5,1059.5 v6 h6 z"/><rect x="103" y="1059" width="13" height="13" rx="1.5"/><path d="M105.5,1061.5 l8,8 m0,-8 l-8,8" stroke="#484848" stroke-width="1.8"/><path d="M149,1063 A5.5,5.5 0 1 1 152,1072" fill="none" stroke="#c0c0c0" stroke-width="1.8"/><path d="M146,1060.500 v6 h6 z"/><circle cx="153.5" cy="1066.5" r="1.3"/></g></svg>
<div class="r" style="left:180.20px;top:117.00px;width:1.00px;height:963.00px;background:#5a5a5a;"></div>
<div class="r" style="left:180.20px;top:61.00px;width:85.00px;height:57.00px;background:#3d3d3d;border:1px solid #5a5a5a;border-bottom:none;"></div>
<div class="r" style="left:265.00px;top:117.00px;width:1375.00px;height:1.00px;background:#5a5a5a;"></div>
<svg width="48" height="47" style="left:185px;top:66px" viewBox="361 138 928.5 918" preserveAspectRatio="none"><rect x="361" y="138" width="928.5" height="918" fill="#000"/><use href="#pcbg" /></svg>
<svg width="12" height="12" style="left:240.7px;top:83.700px" viewBox="0 0 12 12"><rect x="0.5" y="0.5" width="10.3" height="10.3" fill="none" stroke="#b8b8b8"/><path d="M2.800,2.800 L8.500,8.500 M8.500,2.800 L2.800,8.500" stroke="#b8b8b8" stroke-width="1.1"/></svg>
<svg width="1920" height="1080" viewBox="0 0 1920 1080"><g stroke="#dcdcdc" stroke-width="1" fill="none" shape-rendering="crispEdges"><path d="M203,136.5 H1618"/><path d="M211.5,130 V136"/><path d="M224.5,132 V136"/><path d="M236.5,122 V136"/><path d="M249.5,132 V136"/><path d="M261.5,130 V136"/><path d="M274.5,132 V136"/><path d="M286.5,130 V136"/><path d="M299.5,132 V136"/><path d="M311.5,130 V136"/><path d="M324.5,132 V136"/><path d="M336.5,130 V136"/><path d="M349.5,132 V136"/><path d="M361.5,122 V136"/><path d="M374.5,132 V136"/><path d="M386.5,130 V136"/><path d="M399.5,132 V136"/><path d="M411.5,130 V136"/><path d="M424.5,132 V136"/><path d="M436.5,130 V136"/><path d="M449.5,132 V136"/><path d="M461.5,130 V136"/><path d="M474.5,132 V136"/><path d="M486.5,122 V136"/><path d="M499.5,132 V136"/><path d="M511.5,130 V136"/><path d="M524.5,132 V136"/><path d="M536.5,130 V136"/><path d="M549.5,132 V136"/><path d="M561.5,130 V136"/><path d="M574.5,132 V136"/><path d="M586.5,130 V136"/><path d="M599.5,132 V136"/><path d="M611.5,122 V136"/><path d="M624.5,132 V136"/><path d="M636.5,130 V136"/><path d="M649.5,132 V136"/><path d="M661.5,130 V136"/><path d="M674.5,132 V136"/><path d="M686.5,130 V136"/><path d="M699.5,132 V136"/><path d="M711.5,130 V136"/><path d="M724.5,132 V136"/><path d="M736.5,122 V136"/><path d="M749.5,132 V136"/><path d="M761.5,130 V136"/><path d="M774.5,132 V136"/><path d="M786.5,130 V136"/><path d="M799.5,132 V136"/><path d="M811.5,130 V136"/><path d="M824.5,132 V136"/><path d="M836.5,130 V136"/><path d="M849.5,132 V136"/><path d="M861.5,122 V136"/><path d="M874.5,132 V136"/><path d="M886.5,130 V136"/><path d="M899.5,132 V136"/><path d="M911.5,130 V136"/><path d="M924.5,132 V136"/><path d="M936.5,130 V136"/><path d="M949.5,132 V136"/><path d="M961.5,130 V136"/><path d="M974.5,132 V136"/><path d="M986.5,122 V136"/><path d="M999.5,132 V136"/><path d="M1011.5,130 V136"/><path d="M1024.5,132 V136"/><path d="M1036.5,130 V136"/><path d="M1049.5,132 V136"/><path d="M1061.5,130 V136"/><path d="M1074.5,132 V136"/><path d="M1086.5,130 V136"/><path d="M1099.5,132 V136"/><path d="M1111.5,122 V136"/><path d="M1124.5,132 V136"/><path d="M1136.5,130 V136"/><path d="M1149.5,132 V136"/><path d="M1161.5,130 V136"/><path d="M1174.5,132 V136"/><path d="M1186.5,130 V136"/><path d="M1199.5,132 V136"/><path d="M1211.5,130 V136"/><path d="M1224.5,132 V136"/><path d="M1236.5,122 V136"/><path d="M1249.5,132 V136"/><path d="M1261.5,130 V136"/><path d="M1274.5,132 V136"/><path d="M1286.5,130 V136"/><path d="M1299.5,132 V136"/><path d="M1311.5,130 V136"/><path d="M1324.5,132 V136"/><path d="M1336.5,130 V136"/><path d="M1349.5,132 V136"/><path d="M1361.5,122 V136"/><path d="M1374.5,132 V136"/><path d="M1386.5,130 V136"/><path d="M1399.5,132 V136"/><path d="M1411.5,130 V136"/><path d="M1424.5,132 V136"/><path d="M1436.5,130 V136"/><path d="M1449.5,132 V136"/><path d="M1461.5,130 V136"/><path d="M1474.5,132 V136"/><path d="M1486.5,122 V136"/><path d="M1499.5,132 V136"/><path d="M1511.5,130 V136"/><path d="M1524.5,132 V136"/><path d="M1536.5,130 V136"/><path d="M1549.5,132 V136"/><path d="M1561.5,130 V136"/><path d="M1574.5,132 V136"/><path d="M1586.5,130 V136"/><path d="M1599.5,132 V136"/><path d="M1611.5,122 V136"/><path d="M199.5,140 V1024"/><path d="M185,139.5 H199"/><path d="M195,151.5 H199"/><path d="M193,163.5 H199"/><path d="M195,176.5 H199"/><path d="M193,188.5 H199"/><path d="M195,201.5 H199"/><path d="M193,213.5 H199"/><path d="M195,226.5 H199"/><path d="M193,238.5 H199"/><path d="M195,251.5 H199"/><path d="M185,263.5 H199"/><path d="M195,276.5 H199"/><path d="M193,288.5 H199"/><path d="M195,301.5 H199"/><path d="M193,313.5 H199"/><path d="M195,326.5 H199"/><path d="M193,338.5 H199"/><path d="M195,351.5 H199"/><path d="M193,363.5 H199"/><path d="M195,376.5 H199"/><path d="M185,388.5 H199"/><path d="M195,401.5 H199"/><path d="M193,413.5 H199"/><path d="M195,426.5 H199"/><path d="M193,438.5 H199"/><path d="M195,451.5 H199"/><path d="M193,463.5 H199"/><path d="M195,476.5 H199"/><path d="M193,488.5 H199"/><path d="M195,501.5 H199"/><path d="M185,513.5 H199"/><path d="M195,526.5 H199"/><path d="M193,538.5 H199"/><path d="M195,551.5 H199"/><path d="M193,563.5 H199"/><path d="M195,576.5 H199"/><path d="M193,588.5 H199"/><path d="M195,601.5 H199"/><path d="M193,613.5 H199"/><path d="M195,626.5 H199"/><path d="M185,638.5 H199"/><path d="M195,651.5 H199"/><path d="M193,663.5 H199"/><path d="M195,676.5 H199"/><path d="M193,688.5 H199"/><path d="M195,701.5 H199"/><path d="M193,713.5 H199"/><path d="M195,726.5 H199"/><path d="M193,738.5 H199"/><path d="M195,751.5 H199"/><path d="M185,763.5 H199"/><path d="M195,776.5 H199"/><path d="M193,788.5 H199"/><path d="M195,801.5 H199"/><path d="M193,813.5 H199"/><path d="M195,826.5 H199"/><path d="M193,838.5 H199"/><path d="M195,851.5 H199"/><path d="M193,863.5 H199"/><path d="M195,876.5 H199"/><path d="M185,888.5 H199"/><path d="M195,901.5 H199"/><path d="M193,913.5 H199"/><path d="M195,926.5 H199"/><path d="M193,938.5 H199"/><path d="M195,951.5 H199"/><path d="M193,963.5 H199"/><path d="M195,976.5 H199"/><path d="M193,988.5 H199"/><path d="M195,1001.5 H199"/><path d="M185,1013.5 H199"/></g><rect x="186.5" y="123.5" width="10" height="10" fill="#5a5a5a" stroke="#9a9a9a"/><path d="M189,125.5 L195,128.5 L189,131.5 Z" fill="#d0d0d0"/><rect x="1623" y="122" width="12.5" height="12" fill="#9a9a9a"/><circle cx="1628" cy="127" r="2.8" fill="none" stroke="#333" stroke-width="1.3"/><path d="M1630,129.2 L1633.5,132.5" stroke="#333" stroke-width="1.6"/><path d="M1356.8,131.2 H1366.4 L1361.6,136.2 Z" fill="#e4e4e4"/><path d="M193.9,653 V662 L198.9,657.500 Z" fill="#e4e4e4"/><path d="M1631.300,1028 L1638,1041.200 L1631.300,1037.600 L1624.800,1041.200 Z" fill="#cccccc"/><rect x="185" y="1029" width="12" height="12" fill="#686868"/><rect x="186.5" y="1030.5" width="9" height="9" fill="none" stroke="#8a8a8a" stroke-dasharray="1 1"/></svg>
<span class="t" style="left:238.30px;top:120.50px;font-size:10.80px;line-height:13px;color:#e0e0e0;font-family:'Liberation Sans',sans-serif;letter-spacing:0.994px;">-250</span>
<span class="t" style="left:363.30px;top:120.50px;font-size:10.80px;line-height:13px;color:#e0e0e0;font-family:'Liberation Sans',sans-serif;letter-spacing:-0.307px;">0</span>
<span class="t" style="left:488.30px;top:120.50px;font-size:10.80px;line-height:13px;color:#e0e0e0;font-family:'Liberation Sans',sans-serif;letter-spacing:0.140px;">250</span>
<span class="t" style="left:613.30px;top:120.50px;font-size:10.80px;line-height:13px;color:#e0e0e0;font-family:'Liberation Sans',sans-serif;letter-spacing:0.140px;">500</span>
<span class="t" style="left:738.30px;top:120.50px;font-size:10.80px;line-height:13px;color:#e0e0e0;font-family:'Liberation Sans',sans-serif;letter-spacing:0.140px;">750</span>
<span class="t" style="left:863.30px;top:120.50px;font-size:10.80px;line-height:13px;color:#e0e0e0;font-family:'Liberation Sans',sans-serif;letter-spacing:0.191px;">1000</span>
<span class="t" style="left:988.30px;top:120.50px;font-size:10.80px;line-height:13px;color:#e0e0e0;font-family:'Liberation Sans',sans-serif;letter-spacing:0.191px;">1250</span>
<span class="t" style="left:1113.30px;top:120.50px;font-size:10.80px;line-height:13px;color:#e0e0e0;font-family:'Liberation Sans',sans-serif;letter-spacing:0.191px;">1500</span>
<span class="t" style="left:1238.30px;top:120.50px;font-size:10.80px;line-height:13px;color:#e0e0e0;font-family:'Liberation Sans',sans-serif;letter-spacing:0.191px;">1750</span>
<span class="t" style="left:1363.30px;top:120.50px;font-size:10.80px;line-height:13px;color:#e0e0e0;font-family:'Liberation Sans',sans-serif;letter-spacing:0.191px;">2000</span>
<span class="t" style="left:1488.30px;top:120.50px;font-size:10.80px;line-height:13px;color:#e0e0e0;font-family:'Liberation Sans',sans-serif;letter-spacing:0.191px;">2250</span>
<span class="t" style="left:1613.00px;top:120.50px;font-size:10.80px;line-height:13px;color:#e0e0e0;font-family:'Liberation Sans',sans-serif;">2</span>
<span class="t" style="left:185.60px;top:137.50px;font-size:10.80px;line-height:13px;color:#e0e0e0;font-family:'Liberation Sans',sans-serif;">0</span>
<span class="t" style="left:185.60px;top:262.50px;font-size:10.80px;line-height:13px;color:#e0e0e0;font-family:'Liberation Sans',sans-serif;">2</span>
<span class="t" style="left:185.60px;top:272.50px;font-size:10.80px;line-height:13px;color:#e0e0e0;font-family:'Liberation Sans',sans-serif;">5</span>
<span class="t" style="left:185.60px;top:282.50px;font-size:10.80px;line-height:13px;color:#e0e0e0;font-family:'Liberation Sans',sans-serif;">0</span>
<span class="t" style="left:185.60px;top:387.50px;font-size:10.80px;line-height:13px;color:#e0e0e0;font-family:'Liberation Sans',sans-serif;">5</span>
<span class="t" style="left:185.60px;top:397.50px;font-size:10.80px;line-height:13px;color:#e0e0e0;font-family:'Liberation Sans',sans-serif;">0</span>
<span class="t" style="left:185.60px;top:407.50px;font-size:10.80px;line-height:13px;color:#e0e0e0;font-family:'Liberation Sans',sans-serif;">0</span>
<span class="t" style="left:185.60px;top:512.50px;font-size:10.80px;line-height:13px;color:#e0e0e0;font-family:'Liberation Sans',sans-serif;">7</span>
<span class="t" style="left:185.60px;top:522.50px;font-size:10.80px;line-height:13px;color:#e0e0e0;font-family:'Liberation Sans',sans-serif;">5</span>
<span class="t" style="left:185.60px;top:532.50px;font-size:10.80px;line-height:13px;color:#e0e0e0;font-family:'Liberation Sans',sans-serif;">0</span>
<span class="t" style="left:185.60px;top:637.50px;font-size:10.80px;line-height:13px;color:#e0e0e0;font-family:'Liberation Sans',sans-serif;">1</span>
<span class="t" style="left:185.60px;top:647.50px;font-size:10.80px;line-height:13px;color:#e0e0e0;font-family:'Liberation Sans',sans-serif;">0</span>
<span class="t" style="left:185.60px;top:657.50px;font-size:10.80px;line-height:13px;color:#e0e0e0;font-family:'Liberation Sans',sans-serif;">0</span>
<span class="t" style="left:185.60px;top:667.50px;font-size:10.80px;line-height:13px;color:#e0e0e0;font-family:'Liberation Sans',sans-serif;">0</span>
<span class="t" style="left:185.60px;top:762.50px;font-size:10.80px;line-height:13px;color:#e0e0e0;font-family:'Liberation Sans',sans-serif;">1</span>
<span class="t" style="left:185.60px;top:772.50px;font-size:10.80px;line-height:13px;color:#e0e0e0;font-family:'Liberation Sans',sans-serif;">2</span>
<span class="t" style="left:185.60px;top:782.50px;font-size:10.80px;line-height:13px;color:#e0e0e0;font-family:'Liberation Sans',sans-serif;">5</span>
<span class="t" style="left:185.60px;top:792.50px;font-size:10.80px;line-height:13px;color:#e0e0e0;font-family:'Liberation Sans',sans-serif;">0</span>
<span class="t" style="left:185.60px;top:887.50px;font-size:10.80px;line-height:13px;color:#e0e0e0;font-family:'Liberation Sans',sans-serif;">1</span>
<span class="t" style="left:185.60px;top:897.50px;font-size:10.80px;line-height:13px;color:#e0e0e0;font-family:'Liberation Sans',sans-serif;">5</span>
<span class="t" style="left:185.60px;top:907.50px;font-size:10.80px;line-height:13px;color:#e0e0e0;font-family:'Liberation Sans',sans-serif;">0</span>
<span class="t" style="left:185.60px;top:917.50px;font-size:10.80px;line-height:13px;color:#e0e0e0;font-family:'Liberation Sans',sans-serif;">0</span>
<span class="t" style="left:185.60px;top:1012.50px;font-size:10.80px;line-height:13px;color:#e0e0e0;font-family:'Liberation Sans',sans-serif;">1</span>
<div class="r" style="left:1621.00px;top:138.50px;width:15.00px;height:888.00px;background:#222;"></div>
<div class="r" style="left:1622.00px;top:139.30px;width:13.10px;height:855.50px;background:#5e5e5e;border-radius:2px;"></div>
<div class="r" style="left:201.00px;top:1027.00px;width:1422.50px;height:14.80px;background:#222;"></div>
<div class="r" style="left:283.00px;top:1027.90px;width:1339.60px;height:13.10px;background:#5e5e5e;border-radius:2px;"></div>
<div class="r" style="left:181.20px;top:1043.00px;width:1458.00px;height:36.00px;background:#464646;border-bottom:1px solid #5a5a5a;"></div>
<span class="t" style="left:200.60px;top:1054.00px;font-size:14.30px;line-height:16px;color:#90959a;font-family:'Liberation Sans',sans-serif;letter-spacing:-0.175px;">2000, 1038</span>
<div class="r" style="left:289.40px;top:1045.00px;width:55.10px;height:31.60px;background:#2e2e2e;border:1px solid #222;border-radius:4px;"></div>
<span class="t" style="left:296.40px;top:1054.50px;font-size:12.60px;line-height:15px;color:#e6e6e6;font-family:'Liberation Sans',sans-serif;letter-spacing:-1.108px;">px</span>
<svg width="16" height="10" style="left:322px;top:1056.5px" viewBox="0 0 16 10"><path d="M2,2 L8,8 L14,2" fill="none" stroke="#e6e6e6" stroke-width="1.8"/></svg>
<div class="r" style="left:346.00px;top:1045.00px;width:39.50px;height:31.60px;background:#424242;"></div>
<div class="r" style="left:348.00px;top:1054.00px;width:35.20px;height:15.00px;background:#262626;"></div>
<span class="t" style="left:356.60px;top:1055.00px;font-size:12.20px;line-height:14px;color:#e6e6e6;font-family:'Liberation Sans',sans-serif;letter-spacing:-0.536px;">50 %</span>
<div class="r" style="left:385.50px;top:1045.00px;width:20.30px;height:31.60px;background:#2e2e2e;border:1px solid #222;border-radius:4px;"></div>
<svg width="14" height="10" style="left:388.3px;top:1056.5px" viewBox="0 0 14 10"><path d="M1.5,2 L7,7.5 L12.5,2" fill="none" stroke="#e6e6e6" stroke-width="1.8"/></svg>
<span class="t" style="left:408.90px;top:1054.00px;font-size:14.30px;line-height:16px;color:#dcdcdc;font-family:'Liberation Sans',sans-serif;letter-spacing:-0.208px;">R (38.4 MB)</span>
<div class="r" style="left:1639.30px;top:117.00px;width:1.00px;height:963.00px;background:#5a5a5a;"></div>
<div class="r" style="left:1640.20px;top:561.00px;width:2.00px;height:3.70px;background:#c4c4c4;"></div>
<div class="r" style="left:178.20px;top:561.00px;width:2.00px;height:3.70px;background:#c4c4c4;"></div>
<div class="r" style="left:1640.20px;top:568.00px;width:2.00px;height:3.70px;background:#c4c4c4;"></div>
<div class="r" style="left:178.20px;top:568.00px;width:2.00px;height:3.70px;background:#c4c4c4;"></div>
<div class="r" style="left:1640.20px;top:575.00px;width:2.00px;height:3.70px;background:#c4c4c4;"></div>
<div class="r" style="left:178.20px;top:575.00px;width:2.00px;height:3.70px;background:#c4c4c4;"></div>
<div class="r" style="left:1642.30px;top:84.30px;width:276.50px;height:440.50px;background:#3c3c3c;border:1px solid #5c5c5c;"></div>
<div class="r" style="left:1642.50px;top:63.80px;width:21.40px;height:20.50px;background:#2c2c2c;"></div>
<div class="r" style="left:1665.00px;top:63.80px;width:18.80px;height:20.50px;background:#2c2c2c;"></div>
<div class="r" style="left:1707.20px;top:63.80px;width:18.20px;height:20.50px;background:#2c2c2c;"></div>
<div class="r" style="left:1684.20px;top:61.30px;width:22.90px;height:24.00px;background:#3c3c3c;border:1px solid #5c5c5c;border-bottom:none;"></div>
<div class="r" style="left:1646.00px;top:66.00px;width:14.80px;height:14.70px;background:#fff;border:1.3px solid #000;border-radius:2px;"></div>
<div class="r" style="left:1652.50px;top:72.50px;width:2.00px;height:2.00px;background:#222;"></div>
<div class="r" style="left:1667.00px;top:66.30px;width:15.00px;height:14.40px;background:#fcb852;border:1.3px solid #000;border-radius:2px;"></div>
<div class="r" style="left:1688.00px;top:65.00px;width:14.80px;height:14.90px;background:#fff;border:1.3px solid #000;border-radius:2px;"></div>
<span class="t" style="left:1690.00px;top:67.50px;font-size:10.50px;line-height:12px;color:#000;font-family:'Liberation Serif',serif;letter-spacing:-1.333px;font-weight:bold;">Aa</span>
<div class="r" style="left:1709.20px;top:67.10px;width:11.60px;height:12.80px;background:#8c8478;border:1.3px solid #000;border-radius:2px;"></div>
<div class="r" style="left:1712.00px;top:69.00px;width:4.50px;height:9.00px;background:#c4c0b8;"></div>
<svg width="12" height="12" style="left:1903.5px;top:67.5px" viewBox="0 0 12 12"><rect x="0.500" y="0.500" width="9.800" height="9.800" fill="none" stroke="#b8b8b8"/><path d="M8,2.400 V8.400 L2.900,5.400 Z" fill="#b8b8b8"/></svg>
<div class="r" style="left:1646.60px;top:89.00px;width:268.80px;height:20.20px;background:#202020;"></div>
<span class="t" style="left:1649.60px;top:89.00px;font-size:15.00px;line-height:17px;color:#707070;font-family:'Liberation Sans',sans-serif;letter-spacing:0.932px;font-style:italic;">filter</span>
<svg width="10" height="7" style="left:1901.3px;top:95.8px" viewBox="0 0 10 7"><path d="M1.2,1.2 L5.0,5.6 L8.8,1.2" fill="none" stroke="#f0f0f0" stroke-width="2.0"/></svg>
<div class="r" style="left:1646px;top:112px;width:256px;height:346px;background:#303030;overflow:hidden">
<div class="r" style="left:2.00px;top:-13.90px;width:34.00px;height:33.80px;background:#fff;border:1px solid #0a0a0a;border-radius:2px;"></div>
<span class="t" style="left:5.60px;top:-10.00px;font-size:21.00px;line-height:23px;color:#000;font-family:'Liberation Sans',sans-serif;letter-spacing:0.713px;">Aa</span>
<span class="t" style="left:40.60px;top:-6.00px;font-size:14.00px;line-height:16px;color:#d4d4d4;font-family:'Liberation Sans',sans-serif;letter-spacing:0.766px;">Segoe UI Variable Semi-Bold #</span>
<div class="r" style="left:2.00px;top:24.10px;width:34.00px;height:33.80px;background:#fff;border:1px solid #0a0a0a;border-radius:2px;"></div>
<span class="t" style="left:5.60px;top:28.00px;font-size:21.00px;line-height:23px;color:#000;font-family:'Liberation Sans',sans-serif;letter-spacing:0.713px;">Aa</span>
<span class="t" style="left:40.60px;top:32.00px;font-size:14.00px;line-height:16px;color:#d4d4d4;font-family:'Liberation Sans',sans-serif;letter-spacing:0.766px;">Segoe UI Variable Semi-Bold #</span>
<div class="r" style="left:2.00px;top:62.10px;width:34.00px;height:33.80px;background:#fff;border:1px solid #0a0a0a;border-radius:2px;"></div>
<span class="t" style="left:5.60px;top:66.00px;font-size:21.00px;line-height:23px;color:#000;font-family:'Liberation Sans',sans-serif;letter-spacing:0.252px;">Aα</span>
<span class="t" style="left:40.60px;top:70.00px;font-size:14.00px;line-height:16px;color:#d4d4d4;font-family:'Liberation Sans',sans-serif;letter-spacing:0.756px;">Segoe UI Variable Semi-Light</span>
<div class="r" style="left:2.00px;top:100.10px;width:34.00px;height:33.80px;background:#fff;border:1px solid #0a0a0a;border-radius:2px;"></div>
<span class="t" style="left:5.60px;top:104.00px;font-size:21.00px;line-height:23px;color:#000;font-family:'Liberation Sans',sans-serif;letter-spacing:0.713px;">Aa</span>
<span class="t" style="left:40.60px;top:108.00px;font-size:14.00px;line-height:16px;color:#d4d4d4;font-family:'Liberation Sans',sans-serif;letter-spacing:0.748px;">Segoe UI Variable Semi-Light #</span>
<div class="r" style="left:2.00px;top:138.10px;width:34.00px;height:33.80px;background:#fff;border:1px solid #0a0a0a;border-radius:2px;"></div>
<span class="t" style="left:5.60px;top:142.00px;font-size:21.00px;line-height:23px;color:#000;font-family:'Liberation Sans',sans-serif;letter-spacing:0.713px;">Aa</span>
<span class="t" style="left:40.60px;top:146.00px;font-size:14.00px;line-height:16px;color:#d4d4d4;font-family:'Liberation Sans',sans-serif;letter-spacing:0.748px;">Segoe UI Variable Semi-Light #</span>
<div class="r" style="left:2.00px;top:176.10px;width:34.00px;height:33.80px;background:#fff;border:1px solid #0a0a0a;border-radius:2px;"></div>
<span class="t" style="left:4.80px;top:179.00px;font-size:23.00px;line-height:25px;color:#000;font-family:'Liberation Serif',serif;letter-spacing:0.182px;">Aa</span>
<span class="t" style="left:40.60px;top:184.00px;font-size:14.00px;line-height:16px;color:#d4d4d4;font-family:'Liberation Sans',sans-serif;letter-spacing:0.800px;">Serif</span>
<div class="r" style="left:0.00px;top:212.20px;width:254.80px;height:37.50px;background:#202020;"></div>
<div class="r" style="left:2.00px;top:214.10px;width:34.00px;height:33.80px;background:#fff;border:1px solid #0a0a0a;border-radius:2px;"></div>
<span class="t" style="left:4.80px;top:217.00px;font-size:23.00px;line-height:25px;color:#000;font-family:'Liberation Serif',serif;letter-spacing:-0.110px;font-weight:bold;">Aa</span>
<span class="t" style="left:40.60px;top:222.00px;font-size:14.00px;line-height:16px;color:#f0f0f0;font-family:'Liberation Sans',sans-serif;letter-spacing:0.678px;">Serif Bold</span>
<div class="r" style="left:2.00px;top:252.10px;width:34.00px;height:33.80px;background:#fff;border:1px solid #0a0a0a;border-radius:2px;"></div>
<span class="t" style="left:4.80px;top:255.00px;font-size:23.00px;line-height:25px;color:#000;font-family:'Liberation Serif',serif;letter-spacing:1.158px;font-weight:bold;font-style:italic;">Aa</span>
<span class="t" style="left:40.60px;top:260.00px;font-size:14.00px;line-height:16px;color:#d4d4d4;font-family:'Liberation Sans',sans-serif;letter-spacing:0.649px;">Serif Bold Italic</span>
<div class="r" style="left:2.00px;top:290.10px;width:34.00px;height:33.80px;background:#fff;border:1px solid #0a0a0a;border-radius:2px;"></div>
<span class="t" style="left:4.80px;top:293.00px;font-size:23.00px;line-height:25px;color:#000;font-family:'Liberation Serif',serif;letter-spacing:1.450px;font-style:italic;">Aa</span>
<span class="t" style="left:40.60px;top:298.00px;font-size:14.00px;line-height:16px;color:#d4d4d4;font-family:'Liberation Sans',sans-serif;letter-spacing:0.621px;">Serif Italic</span>
<div class="r" style="left:2.00px;top:328.10px;width:34.00px;height:33.80px;background:#fff;border:1px solid #0a0a0a;border-radius:2px;"></div>
<span class="t" style="left:6.00px;top:332.50px;font-size:24.00px;line-height:26px;color:#000;font-family:'Liberation Sans',sans-serif;letter-spacing:-7.665px;font-weight:bold;">AA</span>
<span class="t" style="left:40.60px;top:336.00px;font-size:14.00px;line-height:16px;color:#d4d4d4;font-family:'Liberation Sans',sans-serif;letter-spacing:0.847px;">Showcard Gothic</span>
</div>
<div class="r" style="left:1902.00px;top:112.50px;width:15.00px;height:345.50px;background:#222;"></div>
<div class="r" style="left:1903.30px;top:363.90px;width:12.40px;height:29.90px;background:#5e5e5e;border-radius:3px;"></div>
<div class="r" style="left:1646.00px;top:458.70px;width:256.00px;height:13.30px;background:#222;"></div>
<div class="r" style="left:1646.00px;top:459.50px;width:139.00px;height:12.00px;background:#5e5e5e;border-radius:3px;"></div>
<div class="r" style="left:1646.00px;top:476.20px;width:269.50px;height:20.20px;background:#202020;"></div>
<span class="t" style="left:1649.50px;top:476.00px;font-size:15.00px;line-height:17px;color:#707070;font-family:'Liberation Sans',sans-serif;letter-spacing:0.610px;font-style:italic;">enter tags</span>
<svg width="10" height="7" style="left:1901.3px;top:483.3px" viewBox="0 0 10 7"><path d="M1.2,1.2 L5.0,5.6 L8.8,1.2" fill="none" stroke="#f0f0f0" stroke-width="2.0"/></svg>
<svg width="14" height="14" style="left:1773px;top:503.5px" viewBox="0 0 14 14"><path d="M11.2,4.5 A5,5 0 1 0 12,8.5" fill="none" stroke="#d0d0d0" stroke-width="1.7"/><path d="M12.5,1.5 V6.2 H7.8 Z" fill="#d0d0d0"/></svg>
<div class="r" style="left:1772.50px;top:525.00px;width:4.50px;height:2.00px;background:#b0b0b0;"></div>
<div class="r" style="left:1779.00px;top:525.00px;width:4.50px;height:2.00px;background:#b0b0b0;"></div>
<div class="r" style="left:1785.50px;top:525.00px;width:4.50px;height:2.00px;background:#b0b0b0;"></div>
<div class="r" style="left:1642.30px;top:551.00px;width:277.50px;height:529.00px;background:#3c3c3c;border:1px solid #5c5c5c;"></div>
<div class="r" style="left:1712.00px;top:531.00px;width:86.00px;height:20.00px;background:#2c2c2c;"></div>
<div class="r" style="left:1799.00px;top:531.00px;width:58.30px;height:20.00px;background:#2c2c2c;"></div>
<div class="r" style="left:1642.30px;top:528.50px;width:69.50px;height:23.50px;background:#3c3c3c;border:1px solid #5c5c5c;border-bottom:none;"></div>
<svg width="14" height="14" style="left:1645px;top:533px" viewBox="0 0 14 14"><path d="M3,0.5 H13.5 L11,3.6 H0.5 Z M3,5 H13.5 L11,8.1 H0.5 Z M3,9.5 H13.5 L11,12.6 H0.5 Z" fill="#d0d0d0"/></svg>
<span class="t" style="left:1660.00px;top:531.00px;font-size:14.40px;line-height:16px;color:#e8e8e8;font-family:'Liberation Sans',sans-serif;letter-spacing:0.756px;">Layers</span>
<svg width="14" height="14" style="left:1713px;top:533px" viewBox="0 0 14 14"><rect x="0.7" y="0.7" width="12.3" height="12" rx="1" fill="none" stroke="#d0d0d0" stroke-width="1.3"/><path d="M4,2.5 V11 M7,2.5 V11 M10,2.5 V11" stroke="#d0d0d0" stroke-width="1.5"/></svg>
<span class="t" style="left:1728.20px;top:531.00px;font-size:14.40px;line-height:16px;color:#e8e8e8;font-family:'Liberation Sans',sans-serif;letter-spacing:0.737px;">Channels</span>
<svg width="14" height="14" style="left:1799.5px;top:534px" viewBox="0 0 14 14"><path d="M1,4 H13" stroke="#d0d0d0" stroke-width="1.2" stroke-dasharray="2 1.5"/><path d="M1.5,11.5 Q3,5 7,5 Q11,5 12.5,11.5" fill="none" stroke="#d0d0d0" stroke-width="1.8"/><rect x="5.2" y="2.2" width="3.6" height="3.6" fill="#d0d0d0"/><circle cx="1.5" cy="4" r="1.5" fill="#d0d0d0"/><circle cx="12.500" cy="4" r="1.5" fill="#d0d0d0"/></svg>
<span class="t" style="left:1815.00px;top:531.00px;font-size:14.40px;line-height:16px;color:#e8e8e8;font-family:'Liberation Sans',sans-serif;letter-spacing:0.344px;">Paths</span>
<svg width="12" height="12" style="left:1903.7px;top:534.3px" viewBox="0 0 12 12"><rect x="0.500" y="0.500" width="9.800" height="9.800" fill="none" stroke="#b8b8b8"/><path d="M8,2.400 V8.400 L2.900,5.400 Z" fill="#b8b8b8"/></svg>
<div class="r" style="left:1645.00px;top:554.30px;width:226.60px;height:30.00px;background:#2c2c2c;border:1px solid #1c1c1c;border-radius:5px;"></div>
<span class="t" style="left:1652.40px;top:561.00px;font-size:14.30px;line-height:16px;color:#e0e0e0;font-family:'Liberation Sans',sans-serif;letter-spacing:0.243px;">Mode</span>
<span class="t" style="left:1795.30px;top:561.00px;font-size:14.30px;line-height:16px;color:#e0e0e0;font-family:'Liberation Sans',sans-serif;letter-spacing:0.403px;">Normal</span>
<svg width="13" height="8" style="left:1852.6px;top:565.4px" viewBox="0 0 13 8"><path d="M1.2,1.2 L6.5,6.6 L11.8,1.2" fill="none" stroke="#e6e6e6" stroke-width="1.8"/></svg>
<div class="r" style="left:1873.30px;top:554.30px;width:43.40px;height:30.00px;background:#2c2c2c;border:1px solid #1c1c1c;border-radius:5px;"></div>
<svg width="14" height="14" style="left:1877.5px;top:562.5px" viewBox="0 0 14 14"><path d="M3.2,5.2 A4.6,4.6 0 1 1 7.5,12" fill="none" stroke="#d0d0d0" stroke-width="1.5"/><path d="M1,2.5 V7 H5.5 Z" fill="#d0d0d0"/><circle cx="3.6" cy="11.3" r="1.7" fill="#d0d0d0"/></svg>
<svg width="13" height="8" style="left:1897.5px;top:565.4px" viewBox="0 0 13 8"><path d="M1.2,1.2 L6.5,6.6 L11.8,1.2" fill="none" stroke="#e6e6e6" stroke-width="1.8"/></svg>
<div class="r" style="left:1645.00px;top:586.40px;width:271.70px;height:19.60px;background:#5a5a5a;border:1px solid #747474;"></div>
<div class="r" style="left:1904.30px;top:587.40px;width:11.40px;height:17.60px;background:#464646;border-left:1px solid #222;"></div>
<span class="t" style="left:1647.30px;top:588.00px;font-size:14.30px;line-height:16px;color:#e0e0e0;font-family:'Liberation Sans',sans-serif;letter-spacing:0.787px;">Opacity</span>
<span class="t" style="left:1863.90px;top:588.00px;font-size:14.30px;line-height:16px;color:#e0e0e0;font-family:'Liberation Sans',sans-serif;letter-spacing:0.704px;">100.0</span>
<svg width="10" height="16" style="left:1905.8px;top:588.5px" viewBox="0 0 10 16"><path d="M2,6 L5,3 L8,6" fill="none" stroke="#6a6a6a" stroke-width="1.5"/><path d="M2,10 L5,13 L8,10" fill="none" stroke="#d0d0d0" stroke-width="1.6"/></svg>
<span class="t" style="left:1645.50px;top:610.00px;font-size:14.30px;line-height:16px;color:#e0e0e0;font-family:'Liberation Sans',sans-serif;letter-spacing:0.005px;">Lock:</span>
<svg width="64" height="16" style="left:1686px;top:610.5px" viewBox="0 0 64 16"><path d="M13.5,1.500 L6,9.500 L7.500,11 L14,2.500 Z" fill="#c0c0c0"/><path d="M5.5,10 Q2.500,10.500 2,14.500 Q6,14.500 7,11.500 Z" fill="#c0c0c0"/><path d="M31.5,1.500 L34.300,4.500 H32.300 V7.200 H35 V5.200 L38,8 L35,10.800 V8.800 H32.300 V11.500 H34.300 L31.500,14.500 L28.700,11.500 H30.700 V8.800 H28 V10.800 L25,8 L28,5.200 V7.200 H30.700 V4.500 H28.700 Z" fill="#c0c0c0"/><rect x="49" y="1.500" width="13" height="13" fill="#707070"/><path d="M49,1.500h3.250v3.250h-3.250zM55.500,1.500h3.250v3.250h-3.250zM52.250,4.750h3.250v3.250h-3.250zM58.750,4.750h3.250v3.250h-3.250zM49,8h3.250v3.250h-3.250zM55.500,8h3.250v3.250h-3.250zM52.250,11.250h3.250v3.250h-3.250zM58.750,11.250h3.250v3.250h-3.250z" fill="#a8a8a8"/></svg>
<div class="r" style="left:1646.00px;top:632.30px;width:270.80px;height:406.00px;background:#303030;"></div>
<div class="r" style="left:1646.00px;top:632.30px;width:270.80px;height:25.30px;background:#464646;border:1px solid #343434;"></div>
<div class="r" style="left:1673.70px;top:632.30px;width:1.00px;height:25.00px;background:#3a3a3a;"></div>
<div class="r" style="left:1702.30px;top:632.30px;width:1.00px;height:25.00px;background:#3a3a3a;"></div>
<div class="r" style="left:1646.00px;top:657.80px;width:270.80px;height:40.00px;background:#202020;"></div>
<svg width="14.8" height="9.4" style="left:1652.0px;top:640.3px" viewBox="0 0 19 12"><path d="M0.8,6 Q9.500,-3.500 18.200,6 Q9.500,15.500 0.800,6 Z" fill="none" stroke="#c0c0c0" stroke-width="1.6"/><circle cx="9.500" cy="5.800" r="3.600" fill="#c0c0c0"/><circle cx="8.300" cy="4.600" r="1.200" fill="#303030"/></svg>
<svg width="10" height="16" style="left:1682.5px;top:637px" viewBox="0 0 10 16"><rect x="2.200" y="1" width="5.600" height="5.500" rx="1" fill="none" stroke="#c0c0c0" stroke-width="1.6"/><path d="M5,6.500 V10.500" stroke="#c0c0c0" stroke-width="1.6"/><path d="M1.500,14.500 Q1.500,10.500 5,10.500 Q8.500,10.500 8.500,14.500" fill="none" stroke="#c0c0c0" stroke-width="1.6"/></svg>
<svg width="19.0" height="12.0" style="left:1650.5px;top:672.3px" viewBox="0 0 19 12"><path d="M0.8,6 Q9.500,-3.500 18.200,6 Q9.500,15.500 0.800,6 Z" fill="none" stroke="#c4c4c4" stroke-width="1.6"/><circle cx="9.500" cy="5.800" r="3.600" fill="#c4c4c4"/><circle cx="8.300" cy="4.600" r="1.200" fill="#303030"/></svg>
<div class="r" style="left:1721.20px;top:660.00px;width:35.80px;height:35.80px;background:#303030;border:1.3px solid #ffffff;"></div>
<svg width="32" height="32" style="left:1723px;top:661.8px" viewBox="0 0 32 32"><path d="M4.500,16.500 H27.500 V18 H30 L28.500,29.500 H1.500 Z" fill="#c0c0c0"/><path d="M11.800,2 H19.200 L27,21 H19.600 L18.600,18 H12.400 L11.400,21 H4 Z" fill="#303030"/><path d="M12.800,3.500 H18.200 L24.700,19.500 H20.600 L19.400,16.200 H11.600 L10.400,19.500 H6.300 Z M15.500,7.500 L12.900,13.300 H18.100 Z" fill="#c0c0c0" fill-rule="evenodd"/></svg>
<span class="t" style="left:1761.70px;top:669.00px;font-size:14.00px;line-height:16px;color:#e0e0e0;font-family:'Liberation Sans',sans-serif;">R</span>
<svg width="19.0" height="12.0" style="left:1650.5px;top:712.3px" viewBox="0 0 19 12"><path d="M0.8,6 Q9.500,-3.500 18.200,6 Q9.500,15.500 0.800,6 Z" fill="none" stroke="#c4c4c4" stroke-width="1.6"/><circle cx="9.500" cy="5.800" r="3.600" fill="#c4c4c4"/><circle cx="8.300" cy="4.600" r="1.200" fill="#303030"/></svg>
<div class="r" style="left:1721.20px;top:700.00px;width:35.80px;height:35.80px;background:#303030;border:2.0px solid #000000;"></div>
<svg width="32" height="32" style="left:1723px;top:701.8px" viewBox="0 0 32 32"><path d="M4.500,16.500 H27.500 V18 H30 L28.500,29.500 H1.500 Z" fill="#c0c0c0"/><path d="M11.800,2 H19.200 L27,21 H19.600 L18.600,18 H12.400 L11.400,21 H4 Z" fill="#303030"/><path d="M12.800,3.500 H18.200 L24.700,19.500 H20.600 L19.400,16.200 H11.600 L10.400,19.500 H6.300 Z M15.500,7.500 L12.900,13.300 H18.100 Z" fill="#c0c0c0" fill-rule="evenodd"/></svg>
<span class="t" style="left:1761.70px;top:709.00px;font-size:14.00px;line-height:16px;color:#e0e0e0;font-family:'Liberation Sans',sans-serif;">M</span>
<svg width="19.0" height="12.0" style="left:1650.5px;top:752.3px" viewBox="0 0 19 12"><path d="M0.8,6 Q9.500,-3.500 18.200,6 Q9.500,15.500 0.800,6 Z" fill="none" stroke="#c4c4c4" stroke-width="1.6"/><circle cx="9.500" cy="5.800" r="3.600" fill="#c4c4c4"/><circle cx="8.300" cy="4.600" r="1.200" fill="#303030"/></svg>
<div class="r" style="left:1721.20px;top:740.00px;width:35.80px;height:35.80px;background:#303030;border:2.0px solid #000000;"></div>
<svg width="32" height="32" style="left:1723px;top:741.8px" viewBox="0 0 32 32"><path d="M4.500,16.500 H27.500 V18 H30 L28.500,29.500 H1.500 Z" fill="#c0c0c0"/><path d="M11.800,2 H19.200 L27,21 H19.600 L18.600,18 H12.400 L11.400,21 H4 Z" fill="#303030"/><path d="M12.800,3.500 H18.200 L24.700,19.500 H20.600 L19.400,16.200 H11.600 L10.400,19.500 H6.300 Z M15.500,7.500 L12.900,13.300 H18.100 Z" fill="#c0c0c0" fill-rule="evenodd"/></svg>
<span class="t" style="left:1761.70px;top:749.00px;font-size:14.00px;line-height:16px;color:#e0e0e0;font-family:'Liberation Sans',sans-serif;">K</span>
<svg width="19.0" height="12.0" style="left:1650.5px;top:792.3px" viewBox="0 0 19 12"><path d="M0.8,6 Q9.500,-3.500 18.200,6 Q9.500,15.500 0.800,6 Z" fill="none" stroke="#c4c4c4" stroke-width="1.6"/><circle cx="9.500" cy="5.800" r="3.600" fill="#c4c4c4"/><circle cx="8.300" cy="4.600" r="1.200" fill="#303030"/></svg>
<svg width="36" height="36" style="left:1721.2px;top:780.0px" viewBox="318.8 90.2 1011.6 1011.6" preserveAspectRatio="none"><rect x="318.8" y="90.2" width="1011.6" height="1011.6" fill="#000"/><use href="#pcbg"/></svg>
<div class="r" style="left:1761px;top:783px;width:155px;height:30px;overflow:hidden"><span class="t" style="left:0.70px;top:6.00px;font-size:14.00px;line-height:16px;color:#e0e0e0;font-family:'Liberation Sans',sans-serif;letter-spacing:0.820px;">quentorres_traces.png</span></div>
<div class="r" style="left:1646.00px;top:1038.20px;width:270.80px;height:14.60px;background:#222;"></div>
<div class="r" style="left:1646.00px;top:1039.30px;width:264.00px;height:12.60px;background:#5e5e5e;border-radius:3px;"></div>
<svg width="280" height="24" style="left:1640px;top:1053.3px" viewBox="1640 1054 280 24"><g fill="#c8c8c8"><path d="M1658.500,1061 H1664.500 L1667.500,1064 V1072.500 H1658.500 Z" fill="none" stroke="#c8c8c8" stroke-width="1.4"/><path d="M1655,1062 H1660 M1657.500,1059.500 V1064.500" stroke="#c8c8c8" stroke-width="1.4"/><path d="M1689,1060 H1694 L1695.500,1062 H1702 V1073 H1689 Z"/><path d="M1693,1067.500 H1699.500 M1696.200,1064.200 V1070.800" stroke="#303030" stroke-width="1.6"/><path d="M1724,1069 L1729.500,1063.500 L1735,1069" fill="none" stroke="#c8c8c8" stroke-width="1.8"/><path d="M1758,1063.500 L1763.500,1069 L1769,1063.500" fill="none" stroke="#c8c8c8" stroke-width="1.8"/><rect x="1792.500" y="1061.500" width="6.500" height="5" fill="none" stroke="#bcbcbc" stroke-width="1.3"/><rect x="1796.500" y="1065.500" width="6.500" height="5.500" fill="none" stroke="#bcbcbc" stroke-width="1.3"/><path d="M1826,1062 H1832 L1831,1064 H1825 Z M1826,1065.500 H1832 L1831,1067.500 H1825 Z M1826,1069 H1832 L1831,1071 H1825 Z"/><path d="M1835.500,1061.500 V1070 M1833.300,1068 L1835.500,1071 L1837.700,1068" stroke="#c8c8c8" stroke-width="1.5" fill="none"/><path d="M1861.500,1059.500 H1869.500 V1064 Q1869.500,1067 1865.500,1067.500 Q1861.500,1067 1861.500,1064 Z"/><path d="M1861,1068.500 H1872 L1870,1072.500 H1859 Z"/><circle cx="1864" cy="1062.300" r="0.9" fill="#303030"/><circle cx="1867" cy="1062.300" r="0.9" fill="#303030"/><rect x="1893" y="1059.500" width="13" height="13" rx="1.500"/><path d="M1895.700,1062.200 l7.600,7.600 m0,-7.600 l-7.600,7.600" stroke="#303030" stroke-width="2.3"/></g></svg>
</body></html>
